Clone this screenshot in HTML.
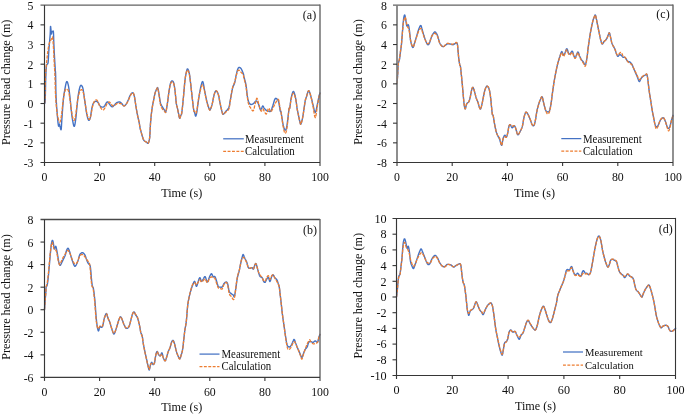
<!DOCTYPE html>
<html><head><meta charset="utf-8"><title>Pressure head change</title>
<style>html,body{margin:0;padding:0;background:#fff;}svg{display:block;will-change:transform;}text{font-family:"Liberation Serif",serif;fill:#111;}</style></head>
<body>
<svg width="685" height="415" viewBox="0 0 685 415">
<rect x="0" y="0" width="685" height="415" fill="#ffffff"/>
<g id="panel-a">
<path d="M44.50,103.50 L44.63,103.38 L44.81,103.31 L45.01,102.47 L45.20,100.00 L45.36,94.90 L45.52,87.88 L45.67,80.67 L45.84,75.00 L46.01,71.32 L46.18,68.71 L46.36,66.84 L46.57,65.36 L46.81,64.44 L47.09,64.17 L47.36,64.13 L47.59,63.91 L47.77,63.60 L47.91,63.36 L48.04,62.84 L48.18,61.72 L48.32,59.69 L48.46,57.02 L48.60,54.14 L48.76,51.50 L48.93,49.20 L49.11,47.03 L49.30,44.89 L49.49,42.74 L49.68,40.52 L49.88,38.28 L50.07,36.09 L50.22,33.98 L50.32,31.74 L50.38,29.43 L50.44,27.50 L50.51,26.39 L50.61,26.40 L50.72,27.24 L50.84,28.46 L50.95,29.60 L51.05,30.77 L51.16,32.13 L51.27,33.32 L51.39,33.98 L51.52,33.85 L51.65,33.18 L51.80,32.37 L51.97,31.79 L52.18,31.52 L52.41,31.38 L52.64,31.33 L52.85,31.35 L53.02,31.22 L53.17,31.01 L53.30,31.20 L53.43,32.23 L53.54,34.38 L53.64,37.35 L53.74,40.76 L53.87,44.20 L54.03,47.73 L54.22,51.51 L54.41,55.29 L54.60,58.80 L54.79,62.09 L54.99,65.26 L55.18,68.13 L55.33,70.47 L55.43,71.70 L55.49,72.10 L55.55,72.81 L55.62,75.00 L55.70,79.29 L55.77,84.95 L55.87,91.12 L56.06,96.90 L56.36,102.38 L56.75,107.94 L57.16,113.08 L57.52,117.34 L57.81,120.60 L58.07,123.13 L58.32,124.95 L58.54,126.09 L58.74,126.20 L58.91,125.36 L59.08,124.35 L59.27,123.91 L59.48,124.28 L59.69,125.06 L59.91,126.00 L60.15,126.82 L60.40,127.81 L60.67,128.99 L60.93,129.74 L61.17,129.45 L61.35,127.92 L61.51,125.47 L61.67,122.36 L61.90,118.80 L62.21,114.43 L62.58,109.28 L62.98,104.14 L63.36,99.82 L63.71,96.60 L64.06,94.02 L64.42,91.79 L64.82,89.60 L65.26,87.15 L65.75,84.67 L66.24,82.65 L66.72,81.57 L67.17,81.64 L67.62,82.57 L68.05,84.10 L68.47,85.95 L68.85,88.14 L69.22,90.78 L69.57,93.75 L69.93,96.90 L70.29,100.39 L70.66,104.24 L71.02,108.07 L71.39,111.50 L71.75,114.49 L72.12,117.23 L72.48,119.65 L72.85,121.72 L73.21,123.56 L73.58,125.16 L73.94,126.21 L74.31,126.39 L74.67,125.52 L75.04,123.80 L75.40,121.47 L75.77,118.80 L76.13,115.57 L76.50,111.75 L76.86,107.81 L77.23,104.20 L77.58,100.96 L77.93,97.88 L78.29,95.04 L78.69,92.52 L79.13,90.23 L79.60,88.17 L80.09,86.53 L80.58,85.51 L81.11,85.25 L81.65,85.61 L82.17,86.40 L82.63,87.41 L82.97,88.64 L83.25,90.17 L83.50,91.97 L83.80,93.98 L84.14,96.29 L84.51,98.91 L84.88,101.61 L85.26,104.20 L85.61,106.69 L85.96,109.17 L86.32,111.54 L86.72,113.69 L87.16,115.76 L87.65,117.75 L88.14,119.35 L88.61,120.26 L89.07,120.33 L89.52,119.75 L89.95,118.70 L90.36,117.34 L90.75,115.47 L91.11,113.09 L91.47,110.65 L91.82,108.58 L92.17,106.97 L92.51,105.61 L92.87,104.45 L93.28,103.47 L93.78,102.65 L94.33,102.01 L94.91,101.55 L95.47,101.28 L96.02,101.19 L96.57,101.28 L97.12,101.55 L97.66,102.01 L98.21,102.77 L98.76,103.79 L99.31,104.83 L99.85,105.66 L100.40,106.23 L100.95,106.66 L101.50,106.96 L102.04,107.12 L102.59,107.16 L103.14,107.07 L103.69,106.83 L104.23,106.39 L104.80,105.61 L105.37,104.56 L105.93,103.51 L106.42,102.74 L106.82,102.26 L107.15,101.96 L107.48,101.86 L107.88,102.01 L108.38,102.50 L108.93,103.30 L109.51,104.18 L110.07,104.93 L110.62,105.56 L111.17,106.18 L111.72,106.64 L112.26,106.82 L112.81,106.62 L113.36,106.13 L113.91,105.51 L114.45,104.93 L114.98,104.37 L115.50,103.76 L116.04,103.19 L116.64,102.74 L117.34,102.40 L118.10,102.14 L118.87,102.00 L119.56,102.01 L120.16,102.19 L120.70,102.54 L121.22,102.98 L121.75,103.47 L122.30,104.11 L122.85,104.91 L123.39,105.60 L123.94,105.95 L124.49,105.87 L125.04,105.50 L125.58,104.92 L126.13,104.20 L126.68,103.30 L127.23,102.22 L127.77,101.03 L128.32,99.82 L128.87,98.52 L129.42,97.11 L129.96,95.78 L130.51,94.71 L131.08,93.90 L131.65,93.28 L132.20,92.89 L132.70,92.81 L133.12,93.01 L133.48,93.46 L133.81,94.24 L134.16,95.44 L134.53,97.20 L134.89,99.43 L135.26,101.86 L135.62,104.20 L135.97,106.35 L136.30,108.49 L136.66,110.66 L137.08,112.96 L137.61,115.52 L138.21,118.28 L138.79,120.92 L139.27,123.18 L139.55,124.75 L139.70,125.88 L139.87,127.00 L140.22,128.58 L140.84,130.98 L141.65,133.89 L142.47,136.69 L143.14,138.80 L143.60,139.93 L143.94,140.47 L144.25,140.71 L144.60,140.99 L145.01,141.32 L145.45,141.56 L145.90,141.77 L146.35,142.01 L146.82,142.45 L147.32,143.02 L147.80,143.37 L148.25,143.18 L148.66,142.38 L149.05,141.15 L149.40,139.47 L149.71,137.34 L149.92,134.60 L150.07,131.31 L150.22,127.76 L150.44,124.20 L150.73,120.58 L151.08,116.81 L151.46,113.08 L151.90,109.60 L152.42,106.32 L153.02,103.16 L153.61,100.30 L154.09,97.92 L154.41,96.18 L154.64,94.94 L154.85,93.95 L155.11,92.96 L155.45,91.90 L155.83,90.91 L156.21,90.03 L156.57,89.31 L156.88,88.60 L157.16,87.94 L157.44,87.60 L157.74,87.85 L158.05,88.87 L158.38,90.49 L158.71,92.43 L159.05,94.42 L159.40,96.57 L159.74,98.98 L160.11,101.29 L160.51,103.18 L160.95,104.45 L161.41,105.32 L161.90,106.03 L162.41,106.82 L162.96,107.79 L163.55,108.79 L164.12,109.72 L164.60,110.47 L164.96,111.20 L165.23,111.89 L165.48,112.24 L165.77,111.93 L166.10,110.86 L166.46,109.20 L166.83,107.08 L167.23,104.64 L167.65,101.64 L168.10,98.11 L168.55,94.56 L168.98,91.50 L169.36,89.00 L169.73,86.82 L170.08,84.96 L170.44,83.47 L170.80,82.36 L171.15,81.61 L171.51,81.18 L171.90,80.99 L172.32,80.96 L172.77,81.16 L173.23,81.71 L173.65,82.74 L174.04,84.37 L174.42,86.50 L174.77,88.94 L175.11,91.50 L175.42,94.37 L175.71,97.57 L175.99,100.66 L176.28,103.18 L176.57,104.87 L176.86,106.02 L177.15,106.99 L177.45,108.14 L177.74,109.57 L178.04,111.09 L178.33,112.60 L178.61,113.98 L178.88,115.35 L179.12,116.72 L179.37,117.81 L179.64,118.36 L179.92,118.14 L180.22,117.35 L180.52,116.34 L180.80,115.44 L181.06,114.96 L181.30,114.65 L181.54,114.01 L181.82,112.52 L182.15,109.97 L182.51,106.66 L182.89,102.85 L183.28,98.80 L183.71,94.16 L184.16,88.95 L184.61,83.92 L185.04,79.82 L185.43,76.92 L185.80,74.80 L186.16,73.18 L186.50,71.79 L186.80,70.51 L187.06,69.51 L187.34,68.91 L187.66,68.87 L188.07,69.43 L188.52,70.51 L188.98,72.05 L189.42,73.98 L189.80,76.40 L190.16,79.32 L190.52,82.48 L190.88,85.66 L191.24,88.87 L191.61,92.23 L191.97,95.58 L192.34,98.80 L192.71,102.04 L193.10,105.33 L193.47,108.27 L193.80,110.47 L194.05,111.63 L194.26,112.00 L194.46,112.12 L194.67,112.52 L194.91,113.51 L195.16,114.74 L195.42,115.78 L195.69,116.17 L195.95,115.87 L196.21,115.11 L196.50,113.78 L196.86,111.79 L197.31,108.82 L197.82,105.02 L198.36,100.99 L198.91,97.34 L199.45,94.04 L200.02,90.84 L200.57,87.97 L201.09,85.66 L201.56,83.81 L201.99,82.34 L202.41,81.55 L202.85,81.72 L203.30,83.19 L203.77,85.72 L204.25,88.70 L204.74,91.50 L205.27,94.10 L205.82,96.78 L206.38,99.38 L206.93,101.72 L207.51,103.83 L208.10,105.79 L208.66,107.47 L209.12,108.72 L209.44,109.54 L209.65,109.99 L209.86,110.06 L210.15,109.74 L210.55,109.02 L211.02,107.89 L211.53,106.42 L212.04,104.64 L212.58,102.29 L213.14,99.43 L213.70,96.63 L214.23,94.42 L214.72,92.87 L215.18,91.72 L215.64,91.01 L216.13,90.77 L216.67,91.05 L217.24,91.82 L217.80,92.97 L218.32,94.42 L218.78,96.23 L219.20,98.43 L219.61,100.81 L220.07,103.18 L220.61,105.68 L221.20,108.38 L221.78,110.84 L222.26,112.66 L222.60,113.70 L222.83,114.17 L223.07,114.26 L223.43,114.12 L223.95,113.72 L224.56,112.98 L225.23,112.09 L225.91,111.20 L226.65,110.43 L227.44,109.65 L228.19,108.74 L228.83,107.55 L229.28,106.09 L229.61,104.41 L229.91,102.47 L230.29,100.26 L230.79,97.51 L231.34,94.32 L231.92,91.19 L232.48,88.58 L233.05,86.74 L233.62,85.38 L234.18,84.16 L234.67,82.74 L235.09,80.98 L235.45,79.09 L235.78,77.19 L236.13,75.44 L236.50,73.79 L236.86,72.20 L237.23,70.77 L237.59,69.60 L237.94,68.71 L238.28,68.05 L238.63,67.61 L239.05,67.41 L239.55,67.43 L240.10,67.68 L240.68,68.16 L241.24,68.87 L241.83,69.96 L242.45,71.38 L243.01,72.83 L243.43,73.98 L243.60,74.55 L243.59,74.79 L243.59,75.14 L243.76,76.06 L244.19,77.71 L244.78,79.84 L245.41,82.27 L245.95,84.82 L246.37,87.67 L246.72,90.84 L247.06,93.92 L247.41,96.50 L247.76,98.45 L248.09,100.01 L248.45,101.27 L248.87,102.34 L249.35,103.23 L249.87,103.89 L250.44,104.32 L251.06,104.53 L251.75,104.43 L252.52,104.07 L253.28,103.57 L253.98,103.07 L254.58,102.45 L255.12,101.70 L255.64,101.08 L256.17,100.88 L256.72,101.18 L257.26,101.83 L257.81,102.74 L258.36,103.80 L258.91,105.27 L259.45,107.13 L260.00,108.77 L260.55,109.64 L261.11,109.25 L261.69,108.04 L262.24,106.71 L262.74,105.99 L263.14,106.12 L263.47,106.72 L263.80,107.49 L264.20,108.18 L264.69,108.76 L265.25,109.36 L265.82,109.92 L266.39,110.36 L266.93,110.67 L267.48,110.87 L268.03,111.00 L268.58,111.09 L269.12,111.28 L269.67,111.51 L270.22,111.52 L270.77,111.09 L271.31,110.06 L271.86,108.59 L272.41,106.90 L272.96,105.26 L273.50,103.49 L274.05,101.56 L274.60,99.83 L275.15,98.69 L275.71,98.30 L276.29,98.46 L276.84,98.91 L277.34,99.42 L277.75,99.86 L278.11,100.37 L278.45,101.14 L278.80,102.34 L279.18,104.30 L279.57,106.85 L279.94,109.33 L280.26,111.09 L280.46,111.57 L280.57,111.22 L280.72,111.02 L280.99,111.90 L281.44,114.50 L282.01,118.20 L282.61,122.03 L283.18,125.04 L283.67,127.08 L284.15,128.64 L284.62,129.67 L285.07,130.15 L285.51,130.17 L285.93,129.74 L286.36,128.59 L286.82,126.50 L287.38,122.70 L287.98,117.56 L288.56,112.51 L289.01,108.98 L289.28,107.82 L289.43,108.12 L289.54,108.65 L289.74,108.18 L290.04,106.20 L290.38,103.43 L290.77,100.48 L291.20,97.96 L291.70,95.75 L292.25,93.62 L292.83,92.02 L293.39,91.39 L293.96,92.02 L294.53,93.62 L295.09,95.75 L295.58,97.96 L296.02,100.41 L296.41,103.24 L296.75,105.99 L297.04,108.18 L297.24,109.41 L297.36,110.04 L297.51,110.66 L297.77,111.90 L298.25,114.19 L298.85,117.13 L299.46,120.01 L299.96,122.12 L300.28,123.37 L300.49,124.11 L300.70,124.29 L300.99,123.87 L301.39,122.79 L301.86,121.09 L302.37,118.89 L302.88,116.28 L303.43,112.90 L304.01,108.83 L304.57,104.83 L305.07,101.68 L305.47,99.74 L305.80,98.54 L306.13,97.62 L306.53,96.50 L307.03,94.81 L307.58,92.89 L308.16,91.31 L308.72,90.66 L309.27,91.23 L309.82,92.66 L310.36,94.56 L310.91,96.50 L311.46,98.52 L312.01,100.78 L312.55,103.10 L313.10,105.26 L313.65,107.56 L314.20,110.00 L314.74,111.89 L315.29,112.55 L315.86,111.46 L316.43,109.09 L316.99,106.26 L317.48,103.80 L317.91,101.78 L318.28,99.83 L318.62,98.03 L318.94,96.50 L319.25,95.24 L319.54,94.22 L319.79,93.42 L319.96,92.85" fill="none" stroke="#4472C4" stroke-width="1.4" stroke-linejoin="round" stroke-linecap="round"/>
<path d="M44.50,103.50 L44.59,102.92 L44.72,102.19 L44.86,100.73 L45.00,98.00 L45.12,93.22 L45.24,86.90 L45.38,80.37 L45.55,75.00 L45.78,71.15 L46.05,68.11 L46.32,65.55 L46.57,63.18 L46.77,61.00 L46.95,59.15 L47.12,57.49 L47.30,55.88 L47.48,54.28 L47.66,52.77 L47.85,51.36 L48.03,50.04 L48.21,48.80 L48.39,47.66 L48.58,46.61 L48.76,45.66 L48.94,44.79 L49.12,44.01 L49.31,43.33 L49.49,42.74 L49.67,42.27 L49.85,41.92 L50.04,41.61 L50.22,41.28 L50.40,40.91 L50.58,40.55 L50.77,40.18 L50.95,39.82 L51.13,39.45 L51.31,39.09 L51.50,38.72 L51.68,38.36 L51.87,37.91 L52.06,37.40 L52.25,37.01 L52.41,36.90 L52.54,37.05 L52.64,37.40 L52.73,38.04 L52.85,39.09 L52.99,40.67 L53.14,42.69 L53.29,44.92 L53.43,47.12 L53.55,49.26 L53.66,51.45 L53.76,53.67 L53.87,55.88 L53.97,58.03 L54.08,60.16 L54.19,62.33 L54.31,64.64 L54.44,66.84 L54.58,69.00 L54.73,71.56 L54.89,75.00 L55.05,79.80 L55.20,85.59 L55.38,91.56 L55.62,96.90 L55.93,101.53 L56.30,105.84 L56.69,109.69 L57.08,112.96 L57.47,115.53 L57.88,117.52 L58.29,119.05 L58.69,120.26 L59.06,121.24 L59.43,121.90 L59.78,122.10 L60.15,121.72 L60.51,120.64 L60.88,118.98 L61.24,116.86 L61.61,114.42 L61.97,111.44 L62.34,107.94 L62.70,104.39 L63.07,101.28 L63.42,98.66 L63.78,96.30 L64.14,94.25 L64.53,92.52 L64.93,91.11 L65.36,90.01 L65.80,89.25 L66.28,88.87 L66.81,88.87 L67.39,89.23 L67.96,89.96 L68.47,91.06 L68.88,92.59 L69.24,94.53 L69.58,96.74 L69.93,99.09 L70.29,101.69 L70.66,104.56 L71.02,107.44 L71.39,110.04 L71.75,112.39 L72.12,114.60 L72.48,116.54 L72.85,118.07 L73.21,119.21 L73.58,120.03 L73.94,120.41 L74.31,120.26 L74.67,119.50 L75.04,118.20 L75.40,116.47 L75.77,114.42 L76.12,111.86 L76.47,108.80 L76.83,105.64 L77.23,102.74 L77.66,100.07 L78.13,97.49 L78.62,95.16 L79.12,93.25 L79.66,91.79 L80.23,90.69 L80.79,89.96 L81.31,89.60 L81.79,89.62 L82.24,90.01 L82.66,90.74 L83.07,91.79 L83.45,93.20 L83.81,94.98 L84.17,96.99 L84.53,99.09 L84.89,101.36 L85.26,103.83 L85.62,106.31 L85.99,108.58 L86.34,110.64 L86.69,112.59 L87.05,114.36 L87.45,115.88 L87.90,117.22 L88.39,118.39 L88.89,119.21 L89.34,119.53 L89.74,119.23 L90.10,118.43 L90.45,117.27 L90.80,115.88 L91.16,114.13 L91.51,112.00 L91.88,109.80 L92.26,107.85 L92.67,106.15 L93.09,104.56 L93.54,103.16 L94.01,102.01 L94.54,101.10 L95.10,100.41 L95.67,99.97 L96.20,99.82 L96.70,100.01 L97.18,100.50 L97.64,101.20 L98.10,102.01 L98.52,102.97 L98.91,104.11 L99.34,105.29 L99.85,106.39 L100.52,107.49 L101.29,108.62 L102.07,109.55 L102.77,110.04 L103.37,109.95 L103.91,109.44 L104.43,108.68 L104.96,107.85 L105.51,106.84 L106.06,105.61 L106.61,104.41 L107.15,103.47 L107.71,102.81 L108.27,102.33 L108.82,102.05 L109.34,102.01 L109.84,102.31 L110.32,102.90 L110.78,103.59 L111.24,104.20 L111.68,104.73 L112.10,105.27 L112.53,105.72 L112.99,105.95 L113.51,105.90 L114.06,105.64 L114.62,105.28 L115.18,104.93 L115.73,104.56 L116.28,104.13 L116.82,103.74 L117.37,103.47 L117.92,103.35 L118.47,103.33 L119.01,103.38 L119.56,103.47 L120.11,103.57 L120.66,103.72 L121.20,103.93 L121.75,104.20 L122.30,104.65 L122.85,105.23 L123.39,105.73 L123.94,105.95 L124.49,105.80 L125.04,105.41 L125.58,104.85 L126.13,104.20 L126.68,103.45 L127.23,102.58 L127.77,101.61 L128.32,100.55 L128.87,99.31 L129.42,97.93 L129.96,96.58 L130.51,95.44 L131.08,94.48 L131.65,93.64 L132.20,93.04 L132.70,92.81 L133.12,92.95 L133.48,93.41 L133.81,94.23 L134.16,95.44 L134.53,97.20 L134.89,99.43 L135.26,101.86 L135.62,104.20 L135.97,106.35 L136.30,108.49 L136.66,110.66 L137.08,112.96 L137.61,115.52 L138.21,118.28 L138.79,120.92 L139.27,123.18 L139.55,124.75 L139.70,125.88 L139.87,127.00 L140.22,128.58 L140.84,130.98 L141.65,133.89 L142.47,136.69 L143.14,138.80 L143.60,139.93 L143.94,140.47 L144.25,140.71 L144.60,140.99 L145.01,141.32 L145.45,141.56 L145.90,141.77 L146.35,142.01 L146.82,142.45 L147.32,143.02 L147.80,143.37 L148.25,143.18 L148.66,142.38 L149.05,141.15 L149.40,139.47 L149.71,137.34 L149.92,134.60 L150.07,131.31 L150.22,127.76 L150.44,124.20 L150.73,120.58 L151.08,116.81 L151.46,113.08 L151.90,109.60 L152.42,106.32 L153.02,103.16 L153.61,100.30 L154.09,97.92 L154.41,96.18 L154.64,94.94 L154.85,93.95 L155.11,92.96 L155.45,91.89 L155.83,90.89 L156.21,90.00 L156.57,89.31 L156.88,88.68 L157.16,88.14 L157.44,87.92 L157.74,88.28 L158.05,89.38 L158.38,91.06 L158.71,93.06 L159.05,95.15 L159.40,97.45 L159.74,100.05 L160.11,102.56 L160.51,104.64 L160.95,106.14 L161.41,107.28 L161.90,108.19 L162.41,109.01 L162.96,109.74 L163.55,110.32 L164.12,110.79 L164.60,111.20 L164.96,111.74 L165.23,112.33 L165.48,112.60 L165.77,112.23 L166.10,111.06 L166.46,109.32 L166.83,107.12 L167.23,104.64 L167.65,101.60 L168.10,98.05 L168.55,94.50 L168.98,91.50 L169.36,89.14 L169.73,87.16 L170.08,85.53 L170.44,84.20 L170.80,83.20 L171.15,82.55 L171.51,82.18 L171.90,82.01 L172.32,81.96 L172.77,82.10 L173.23,82.55 L173.65,83.47 L174.04,84.93 L174.42,86.84 L174.77,89.08 L175.11,91.50 L175.42,94.32 L175.71,97.53 L175.99,100.64 L176.28,103.18 L176.57,104.87 L176.86,106.02 L177.15,106.99 L177.45,108.14 L177.74,109.57 L178.04,111.09 L178.33,112.60 L178.61,113.98 L178.88,115.35 L179.12,116.72 L179.37,117.81 L179.64,118.36 L179.92,118.14 L180.22,117.35 L180.52,116.34 L180.80,115.44 L181.06,114.96 L181.30,114.65 L181.54,114.01 L181.82,112.52 L182.15,109.97 L182.51,106.66 L182.89,102.85 L183.28,98.80 L183.71,94.16 L184.16,88.95 L184.61,83.92 L185.04,79.82 L185.43,76.89 L185.80,74.71 L186.16,73.08 L186.50,71.79 L186.80,70.82 L187.06,70.28 L187.34,70.13 L187.66,70.33 L188.07,70.86 L188.52,71.74 L188.98,73.01 L189.42,74.71 L189.80,76.93 L190.16,79.64 L190.52,82.61 L190.88,85.66 L191.24,88.82 L191.61,92.18 L191.97,95.56 L192.34,98.80 L192.71,102.08 L193.10,105.42 L193.47,108.37 L193.80,110.47 L194.05,111.36 L194.26,111.36 L194.46,111.06 L194.67,111.06 L194.91,111.61 L195.16,112.37 L195.42,113.02 L195.69,113.25 L195.95,113.13 L196.21,112.78 L196.50,111.94 L196.86,110.33 L197.31,107.54 L197.82,103.83 L198.36,99.94 L198.91,96.61 L199.45,93.93 L200.02,91.55 L200.57,89.51 L201.09,87.85 L201.56,86.47 L201.99,85.38 L202.41,84.80 L202.85,84.93 L203.30,85.96 L203.77,87.76 L204.25,89.96 L204.74,92.23 L205.27,94.66 L205.82,97.38 L206.38,100.08 L206.93,102.45 L207.51,104.48 L208.10,106.32 L208.66,107.87 L209.12,109.01 L209.44,109.74 L209.65,110.11 L209.86,110.11 L210.15,109.74 L210.55,109.00 L211.02,107.87 L211.53,106.41 L212.04,104.64 L212.58,102.29 L213.14,99.43 L213.70,96.63 L214.23,94.42 L214.72,92.87 L215.18,91.72 L215.64,91.01 L216.13,90.77 L216.67,91.05 L217.24,91.82 L217.80,92.97 L218.32,94.42 L218.78,96.23 L219.20,98.43 L219.61,100.81 L220.07,103.18 L220.61,105.68 L221.20,108.38 L221.78,110.84 L222.26,112.66 L222.60,113.68 L222.83,114.12 L223.07,114.20 L223.43,114.12 L223.95,113.85 L224.56,113.30 L225.23,112.62 L225.91,111.93 L226.65,111.38 L227.44,110.84 L228.19,110.12 L228.83,109.01 L229.28,107.49 L229.61,105.64 L229.91,103.47 L230.29,100.99 L230.79,97.89 L231.34,94.28 L231.92,90.74 L232.48,87.85 L233.05,85.87 L233.62,84.47 L234.18,83.30 L234.67,82.01 L235.09,80.53 L235.45,79.04 L235.78,77.58 L236.13,76.17 L236.49,74.74 L236.84,73.29 L237.21,72.01 L237.59,71.06 L238.01,70.50 L238.44,70.24 L238.89,70.20 L239.34,70.33 L239.80,70.67 L240.26,71.24 L240.74,71.90 L241.24,72.52 L241.81,73.05 L242.43,73.57 L243.01,74.12 L243.43,74.71 L243.60,75.23 L243.59,75.70 L243.59,76.38 L243.76,77.52 L244.18,79.12 L244.74,81.07 L245.36,83.43 L245.95,86.28 L246.50,90.04 L247.04,94.53 L247.59,98.92 L248.14,102.34 L248.67,104.42 L249.19,105.68 L249.73,106.55 L250.33,107.45 L251.03,108.65 L251.81,109.88 L252.57,110.73 L253.25,110.80 L253.80,109.75 L254.27,107.86 L254.71,105.69 L255.15,103.80 L255.59,102.05 L256.03,100.24 L256.46,98.82 L256.90,98.25 L257.32,98.81 L257.74,100.22 L258.17,102.03 L258.65,103.80 L259.21,105.72 L259.82,107.93 L260.43,109.90 L260.99,111.09 L261.47,111.11 L261.92,110.32 L262.33,109.37 L262.74,108.91 L263.11,109.13 L263.44,109.68 L263.79,110.39 L264.20,111.09 L264.69,111.98 L265.25,113.06 L265.82,113.88 L266.39,114.01 L266.93,112.95 L267.48,111.05 L268.03,109.17 L268.58,108.18 L269.12,108.59 L269.67,109.86 L270.22,111.20 L270.77,111.82 L271.30,111.48 L271.82,110.59 L272.36,109.41 L272.96,108.18 L273.64,106.80 L274.39,105.21 L275.15,103.64 L275.88,102.34 L276.58,101.13 L277.28,99.96 L277.94,99.26 L278.50,99.42 L278.96,100.90 L279.33,103.38 L279.66,106.07 L279.96,108.18 L280.22,109.21 L280.43,109.67 L280.66,110.32 L280.99,111.90 L281.46,114.96 L282.03,119.00 L282.62,123.14 L283.18,126.50 L283.67,129.04 L284.14,131.18 L284.61,132.69 L285.07,133.36 L285.54,133.19 L286.01,132.27 L286.49,130.55 L286.97,127.96 L287.50,123.74 L288.07,118.18 L288.59,112.76 L289.01,108.98 L289.27,107.70 L289.42,107.98 L289.54,108.56 L289.74,108.18 L290.04,106.32 L290.38,103.72 L290.77,100.97 L291.20,98.69 L291.70,96.80 L292.25,95.05 L292.83,93.78 L293.39,93.28 L293.96,93.78 L294.53,95.05 L295.09,96.80 L295.58,98.69 L296.02,100.91 L296.41,103.54 L296.75,106.11 L297.04,108.18 L297.24,109.36 L297.36,109.99 L297.51,110.65 L297.77,111.90 L298.25,114.19 L298.85,117.13 L299.46,120.01 L299.96,122.12 L300.28,123.37 L300.49,124.11 L300.70,124.29 L300.99,123.87 L301.39,122.79 L301.86,121.09 L302.37,118.89 L302.88,116.28 L303.43,112.90 L304.01,108.83 L304.57,104.83 L305.07,101.68 L305.47,99.74 L305.80,98.54 L306.13,97.62 L306.53,96.50 L307.03,94.81 L307.58,92.89 L308.16,91.31 L308.72,90.66 L309.27,91.19 L309.82,92.57 L310.36,94.45 L310.91,96.50 L311.46,98.73 L312.01,101.29 L312.55,104.01 L313.10,106.72 L313.65,109.95 L314.20,113.60 L314.74,116.55 L315.29,117.66 L315.86,116.10 L316.43,112.65 L316.99,108.60 L317.48,105.26 L317.91,102.85 L318.28,100.74 L318.62,98.87 L318.94,97.23 L319.25,95.77 L319.54,94.53 L319.79,93.55 L319.96,92.85" fill="none" stroke="#ED7D31" stroke-width="1.3" stroke-dasharray="3.3 1.2" stroke-linejoin="round"/>
<path d="M40.50,5.20 H320.00" stroke="#626262" stroke-width="1.3" fill="none"/>
<path d="M320.00,4.60 V166.00" stroke="#666666" stroke-width="1.4" fill="none"/>
<path d="M44.50,5.20 V166.00" stroke="#363636" stroke-width="1.15" fill="none"/>
<path d="M40.50,162.50 H320.00" stroke="#363636" stroke-width="1.15" fill="none"/>
<text transform="translate(33.50,9.66) scale(0.895,1)" font-size="13.2" text-anchor="end">5</text>
<path d="M40.50,24.86 H44.50" stroke="#363636" stroke-width="1.1" fill="none"/>
<text transform="translate(33.50,29.32) scale(0.895,1)" font-size="13.2" text-anchor="end">4</text>
<path d="M40.50,44.53 H44.50" stroke="#363636" stroke-width="1.1" fill="none"/>
<text transform="translate(33.50,48.99) scale(0.895,1)" font-size="13.2" text-anchor="end">3</text>
<path d="M40.50,64.19 H44.50" stroke="#363636" stroke-width="1.1" fill="none"/>
<text transform="translate(33.50,68.65) scale(0.895,1)" font-size="13.2" text-anchor="end">2</text>
<path d="M40.50,83.85 H44.50" stroke="#363636" stroke-width="1.1" fill="none"/>
<text transform="translate(33.50,88.31) scale(0.895,1)" font-size="13.2" text-anchor="end">1</text>
<path d="M40.50,103.51 H44.50" stroke="#363636" stroke-width="1.1" fill="none"/>
<text transform="translate(33.50,107.97) scale(0.895,1)" font-size="13.2" text-anchor="end">0</text>
<path d="M40.50,123.18 H44.50" stroke="#363636" stroke-width="1.1" fill="none"/>
<text transform="translate(33.50,127.64) scale(0.895,1)" font-size="13.2" text-anchor="end">-1</text>
<path d="M40.50,142.84 H44.50" stroke="#363636" stroke-width="1.1" fill="none"/>
<text transform="translate(33.50,147.30) scale(0.895,1)" font-size="13.2" text-anchor="end">-2</text>
<text transform="translate(33.50,166.96) scale(0.895,1)" font-size="13.2" text-anchor="end">-3</text>
<text transform="translate(44.50,180.80) scale(0.895,1)" font-size="13.2" text-anchor="middle">0</text>
<path d="M99.60,162.50 V166.10" stroke="#363636" stroke-width="1.1" fill="none"/>
<text transform="translate(99.60,180.80) scale(0.895,1)" font-size="13.2" text-anchor="middle">20</text>
<path d="M154.70,162.50 V166.10" stroke="#363636" stroke-width="1.1" fill="none"/>
<text transform="translate(154.70,180.80) scale(0.895,1)" font-size="13.2" text-anchor="middle">40</text>
<path d="M209.80,162.50 V166.10" stroke="#363636" stroke-width="1.1" fill="none"/>
<text transform="translate(209.80,180.80) scale(0.895,1)" font-size="13.2" text-anchor="middle">60</text>
<path d="M264.90,162.50 V166.10" stroke="#363636" stroke-width="1.1" fill="none"/>
<text transform="translate(264.90,180.80) scale(0.895,1)" font-size="13.2" text-anchor="middle">80</text>
<text transform="translate(320.00,180.80) scale(0.895,1)" font-size="13.2" text-anchor="middle">100</text>
<text transform="translate(181.80,196.60) scale(0.945,1)" font-size="12.9" text-anchor="middle">Time (s)</text>
<text transform="translate(9.60,82.35) rotate(-90) scale(0.945,1)" font-size="12.9" text-anchor="middle">Pressure head change (m)</text>
<text x="309.50" y="19.00" font-size="12.0" text-anchor="middle">(a)</text>
<path d="M223.20,138.80 H243.80" stroke="#4472C4" stroke-width="1.25" fill="none"/>
<path d="M223.20,151.30 H243.80" stroke="#ED7D31" stroke-width="1.25" stroke-dasharray="2.9 1.5" fill="none"/>
<text transform="translate(245.00,142.70) scale(0.900,1)" font-size="12.0">Measurement</text>
<text transform="translate(245.00,155.10) scale(0.900,1)" font-size="12.0">Calculation</text>
</g>
<g id="panel-b">
<path d="M44.50,309.70 L44.61,308.15 L44.76,305.93 L44.93,303.43 L45.11,301.06 L45.29,298.79 L45.49,296.46 L45.68,294.23 L45.84,292.30 L45.92,290.71 L45.96,289.37 L46.01,288.23 L46.13,287.23 L46.36,286.59 L46.66,286.26 L46.99,285.80 L47.30,284.74 L47.59,282.92 L47.89,280.57 L48.19,277.95 L48.47,275.26 L48.73,272.49 L48.99,269.55 L49.24,266.55 L49.49,263.58 L49.74,260.61 L49.99,257.60 L50.25,254.66 L50.51,251.90 L50.80,249.19 L51.09,246.54 L51.39,244.20 L51.68,242.41 L51.95,241.26 L52.21,240.61 L52.46,240.39 L52.70,240.51 L52.93,241.11 L53.16,242.16 L53.37,243.42 L53.58,244.60 L53.75,245.84 L53.91,247.21 L54.08,248.37 L54.31,248.98 L54.63,248.66 L55.02,247.68 L55.42,246.70 L55.77,246.35 L56.05,246.86 L56.30,247.86 L56.54,249.14 L56.79,250.44 L57.04,251.76 L57.29,253.20 L57.54,254.73 L57.81,256.28 L58.09,257.96 L58.39,259.77 L58.68,261.47 L58.98,262.85 L59.26,263.87 L59.54,264.65 L59.83,265.15 L60.15,265.33 L60.48,265.08 L60.84,264.47 L61.21,263.67 L61.61,262.85 L62.02,262.02 L62.46,261.09 L62.91,260.14 L63.36,259.20 L63.80,258.32 L64.25,257.46 L64.69,256.56 L65.11,255.55 L65.49,254.30 L65.86,252.90 L66.21,251.54 L66.57,250.44 L66.93,249.57 L67.30,248.84 L67.66,248.37 L68.03,248.25 L68.39,248.57 L68.76,249.25 L69.12,250.16 L69.49,251.17 L69.84,252.27 L70.19,253.54 L70.55,254.90 L70.95,256.28 L71.39,257.73 L71.87,259.26 L72.36,260.76 L72.85,262.12 L73.32,263.40 L73.80,264.64 L74.28,265.64 L74.74,266.20 L75.19,266.21 L75.63,265.78 L76.06,265.10 L76.50,264.31 L76.94,263.40 L77.39,262.32 L77.83,261.13 L78.25,259.93 L78.62,258.63 L78.97,257.22 L79.32,255.89 L79.71,254.82 L80.16,254.07 L80.66,253.55 L81.15,253.19 L81.61,252.92 L81.99,252.73 L82.34,252.66 L82.68,252.72 L83.07,252.92 L83.52,253.27 L84.01,253.76 L84.51,254.38 L84.96,255.11 L85.35,256.00 L85.70,257.03 L86.05,258.13 L86.42,259.20 L86.84,260.27 L87.28,261.37 L87.73,262.41 L88.18,263.28 L88.64,263.89 L89.11,264.31 L89.56,264.72 L89.93,265.33 L90.18,266.10 L90.36,266.95 L90.50,268.02 L90.66,269.42 L90.84,271.31 L91.01,273.59 L91.19,275.98 L91.39,278.18 L91.59,280.22 L91.81,282.22 L92.03,284.03 L92.26,285.47 L92.51,286.31 L92.76,286.70 L93.03,287.08 L93.28,287.92 L93.54,289.37 L93.80,291.17 L94.06,293.18 L94.31,295.22 L94.54,297.27 L94.76,299.42 L94.98,301.65 L95.18,303.98 L95.37,306.43 L95.54,309.00 L95.71,311.61 L95.91,314.20 L96.14,316.84 L96.38,319.53 L96.64,322.12 L96.93,324.42 L97.27,326.57 L97.64,328.61 L98.02,330.20 L98.39,330.99 L98.76,330.54 L99.12,329.16 L99.49,327.60 L99.85,326.61 L100.22,326.48 L100.58,326.79 L100.95,327.19 L101.31,327.34 L101.68,327.26 L102.04,327.11 L102.41,326.70 L102.77,325.88 L103.12,324.41 L103.46,322.45 L103.82,320.38 L104.23,318.58 L104.75,316.92 L105.33,315.29 L105.91,314.03 L106.42,313.47 L106.83,313.89 L107.17,315.06 L107.50,316.53 L107.88,317.85 L108.33,318.91 L108.81,319.95 L109.31,321.03 L109.78,322.23 L110.24,323.62 L110.68,325.15 L111.12,326.67 L111.53,328.07 L111.93,329.33 L112.30,330.53 L112.66,331.59 L112.99,332.45 L113.29,333.15 L113.56,333.72 L113.83,334.02 L114.16,333.91 L114.55,333.29 L114.97,332.26 L115.43,330.96 L115.91,329.53 L116.43,327.86 L116.98,325.94 L117.54,323.99 L118.10,322.23 L118.66,320.56 L119.22,318.91 L119.78,317.58 L120.29,316.82 L120.76,316.83 L121.19,317.41 L121.61,318.32 L122.04,319.31 L122.51,320.43 L122.98,321.79 L123.46,323.18 L123.94,324.42 L124.42,325.52 L124.90,326.56 L125.38,327.44 L125.84,328.07 L126.29,328.37 L126.72,328.43 L127.16,328.31 L127.59,328.07 L128.03,327.79 L128.46,327.43 L128.89,326.83 L129.34,325.88 L129.82,324.36 L130.31,322.41 L130.79,320.37 L131.24,318.58 L131.64,317.06 L132.00,315.66 L132.35,314.44 L132.70,313.47 L133.07,312.74 L133.43,312.24 L133.80,311.98 L134.16,312.01 L134.52,312.43 L134.86,313.19 L135.22,314.09 L135.62,314.93 L136.06,315.54 L136.53,316.07 L137.02,316.76 L137.52,317.85 L138.05,319.52 L138.60,321.61 L139.14,323.82 L139.60,325.84 L139.95,327.65 L140.22,329.40 L140.48,331.01 L140.77,332.41 L141.12,333.44 L141.51,334.19 L141.89,334.96 L142.23,336.06 L142.50,337.63 L142.74,339.48 L142.97,341.45 L143.25,343.36 L143.57,345.15 L143.92,346.92 L144.30,348.73 L144.71,350.66 L145.16,352.80 L145.66,355.08 L146.15,357.35 L146.61,359.42 L147.01,361.27 L147.38,363.00 L147.73,364.58 L148.07,365.99 L148.37,367.37 L148.66,368.70 L148.94,369.66 L149.23,369.93 L149.56,369.16 L149.89,367.61 L150.23,365.87 L150.55,364.53 L150.85,363.65 L151.13,362.96 L151.42,362.50 L151.72,362.34 L152.03,362.66 L152.35,363.39 L152.69,364.13 L153.03,364.53 L153.39,364.55 L153.77,364.39 L154.14,363.93 L154.49,363.07 L154.79,361.58 L155.07,359.60 L155.35,357.52 L155.66,355.77 L155.99,354.28 L156.35,352.89 L156.72,351.85 L157.12,351.39 L157.54,351.80 L157.98,352.89 L158.43,354.14 L158.87,355.04 L159.28,355.51 L159.69,355.81 L160.09,355.91 L160.47,355.77 L160.85,355.10 L161.21,354.03 L161.57,353.10 L161.93,352.85 L162.29,353.61 L162.65,355.04 L163.01,356.64 L163.39,357.96 L163.82,358.99 L164.27,359.96 L164.72,360.66 L165.15,360.88 L165.53,360.46 L165.89,359.55 L166.25,358.40 L166.61,357.23 L166.96,356.03 L167.31,354.72 L167.67,353.38 L168.07,352.12 L168.51,351.00 L169.00,349.97 L169.49,348.92 L169.96,347.74 L170.42,346.28 L170.87,344.64 L171.30,343.08 L171.72,341.90 L172.10,341.11 L172.46,340.57 L172.82,340.34 L173.18,340.44 L173.53,340.91 L173.89,341.72 L174.25,342.80 L174.64,344.09 L175.05,345.71 L175.48,347.65 L175.93,349.63 L176.39,351.39 L176.86,352.89 L177.35,354.26 L177.84,355.48 L178.28,356.50 L178.68,357.39 L179.04,358.14 L179.39,358.62 L179.74,358.69 L180.11,358.24 L180.47,357.36 L180.84,356.24 L181.20,355.04 L181.58,353.80 L181.96,352.44 L182.33,350.91 L182.66,349.20 L182.95,347.25 L183.19,345.09 L183.43,342.80 L183.69,340.44 L183.96,337.95 L184.24,335.33 L184.54,332.71 L184.85,330.22 L185.20,328.08 L185.57,326.16 L185.95,324.08 L186.31,321.46 L186.65,317.93 L186.97,313.78 L187.29,309.63 L187.63,306.09 L187.97,303.41 L188.32,301.21 L188.69,299.27 L189.09,297.34 L189.53,295.36 L190.02,293.46 L190.51,291.67 L190.99,290.04 L191.43,288.57 L191.86,287.25 L192.29,286.05 L192.74,284.93 L193.20,283.71 L193.69,282.46 L194.17,281.54 L194.64,281.28 L195.09,282.14 L195.54,283.83 L195.97,285.52 L196.39,286.39 L196.76,286.12 L197.11,285.20 L197.46,283.96 L197.85,282.74 L198.29,281.36 L198.78,279.73 L199.27,278.32 L199.74,277.63 L200.19,278.06 L200.63,279.27 L201.06,280.57 L201.50,281.28 L201.93,281.15 L202.36,280.57 L202.80,279.79 L203.25,279.09 L203.71,278.30 L204.17,277.37 L204.65,276.68 L205.15,276.61 L205.67,277.65 L206.22,279.47 L206.78,281.21 L207.34,282.01 L207.89,281.42 L208.45,279.99 L209.00,278.29 L209.53,276.90 L210.02,275.81 L210.50,274.77 L210.97,273.99 L211.42,273.69 L211.87,274.12 L212.31,275.11 L212.74,276.19 L213.18,276.90 L213.62,276.97 L214.07,276.71 L214.51,276.46 L214.93,276.61 L215.30,277.25 L215.65,278.19 L216.00,279.33 L216.39,280.55 L216.82,281.99 L217.29,283.67 L217.78,285.24 L218.28,286.39 L218.82,286.95 L219.39,287.14 L219.95,287.13 L220.47,287.12 L220.94,287.19 L221.37,287.23 L221.79,287.14 L222.23,286.82 L222.68,286.16 L223.15,285.22 L223.63,284.24 L224.12,283.47 L224.67,282.88 L225.25,282.39 L225.81,282.07 L226.31,282.01 L226.73,282.18 L227.09,282.55 L227.43,283.20 L227.77,284.20 L228.12,285.78 L228.46,287.85 L228.82,289.91 L229.23,291.50 L229.74,292.42 L230.30,292.96 L230.88,293.31 L231.42,293.69 L231.94,294.10 L232.45,294.46 L232.92,294.80 L233.32,295.15 L233.63,295.73 L233.86,296.47 L234.08,296.91 L234.34,296.61 L234.68,295.32 L235.05,293.32 L235.43,290.96 L235.80,288.58 L236.16,286.11 L236.51,283.42 L236.87,280.76 L237.26,278.36 L237.71,276.36 L238.19,274.62 L238.69,272.92 L239.16,271.06 L239.62,268.90 L240.06,266.59 L240.50,264.32 L240.91,262.30 L241.31,260.54 L241.70,258.96 L242.06,257.58 L242.37,256.46 L242.62,255.56 L242.81,254.88 L243.00,254.50 L243.25,254.49 L243.56,255.01 L243.91,255.96 L244.30,257.09 L244.71,258.14 L245.16,259.00 L245.64,259.83 L246.13,260.72 L246.61,261.79 L247.05,263.21 L247.49,264.89 L247.92,266.48 L248.36,267.63 L248.79,268.20 L249.22,268.40 L249.66,268.40 L250.11,268.36 L250.58,268.23 L251.08,267.95 L251.56,267.69 L252.01,267.63 L252.40,267.98 L252.76,268.59 L253.11,269.08 L253.47,269.09 L253.84,268.32 L254.22,267.05 L254.58,265.70 L254.93,264.71 L255.24,264.08 L255.52,263.63 L255.80,263.46 L256.09,263.69 L256.41,264.44 L256.73,265.64 L257.07,267.03 L257.41,268.36 L257.77,269.66 L258.15,271.02 L258.52,272.33 L258.87,273.47 L259.16,274.39 L259.41,275.16 L259.68,275.81 L260.04,276.39 L260.53,276.80 L261.11,277.07 L261.71,277.36 L262.23,277.85 L262.64,278.67 L263.00,279.72 L263.34,280.74 L263.69,281.50 L264.05,281.97 L264.42,282.27 L264.78,282.37 L265.15,282.23 L265.50,281.73 L265.86,280.93 L266.22,280.05 L266.61,279.31 L267.03,278.62 L267.47,277.92 L267.92,277.44 L268.36,277.41 L268.77,278.23 L269.16,279.65 L269.56,280.98 L269.96,281.50 L270.40,280.78 L270.85,279.29 L271.29,277.62 L271.72,276.39 L272.09,275.66 L272.45,275.16 L272.80,274.90 L273.18,274.93 L273.59,275.37 L274.02,276.18 L274.47,277.09 L274.93,277.85 L275.40,278.35 L275.89,278.73 L276.38,279.15 L276.82,279.74 L277.23,280.59 L277.61,281.61 L277.96,282.67 L278.28,283.69 L278.57,284.53 L278.83,285.30 L279.07,286.17 L279.31,287.34 L279.53,288.87 L279.74,290.67 L279.96,292.62 L280.18,294.64 L280.42,296.66 L280.67,298.77 L280.93,301.00 L281.20,303.39 L281.49,306.05 L281.80,308.91 L282.11,311.81 L282.45,314.60 L282.79,317.22 L283.16,319.77 L283.54,322.29 L283.91,324.82 L284.27,327.41 L284.64,330.02 L285.00,332.58 L285.36,335.04 L285.73,337.47 L286.09,339.87 L286.46,342.05 L286.82,343.80 L287.17,345.01 L287.51,345.82 L287.87,346.35 L288.28,346.72 L288.78,346.96 L289.33,347.01 L289.91,346.84 L290.47,346.42 L291.04,345.64 L291.61,344.54 L292.17,343.36 L292.66,342.34 L293.08,341.37 L293.44,340.39 L293.78,339.66 L294.12,339.42 L294.49,339.87 L294.85,340.83 L295.22,342.00 L295.58,343.07 L295.93,343.94 L296.27,344.80 L296.63,345.70 L297.04,346.72 L297.56,347.92 L298.14,349.27 L298.72,350.62 L299.23,351.82 L299.66,352.87 L300.03,353.83 L300.37,354.70 L300.69,355.47 L301.00,356.26 L301.28,357.03 L301.56,357.56 L301.86,357.66 L302.20,357.18 L302.55,356.25 L302.93,355.12 L303.32,354.01 L303.73,352.94 L304.15,351.78 L304.60,350.64 L305.07,349.64 L305.61,348.84 L306.19,348.18 L306.76,347.51 L307.26,346.72 L307.66,345.64 L307.99,344.39 L308.32,343.21 L308.72,342.34 L309.22,341.86 L309.77,341.65 L310.35,341.60 L310.91,341.61 L311.46,341.74 L312.01,342.02 L312.55,342.27 L313.10,342.34 L313.65,342.06 L314.20,341.56 L314.74,341.09 L315.29,340.88 L315.86,341.19 L316.43,341.83 L316.99,342.36 L317.48,342.34 L317.91,341.47 L318.28,340.05 L318.62,338.50 L318.94,337.23 L319.25,336.27 L319.54,335.45 L319.79,334.78 L319.96,334.31" fill="none" stroke="#4472C4" stroke-width="1.4" stroke-linejoin="round" stroke-linecap="round"/>
<path d="M44.50,309.70 L44.61,308.15 L44.76,305.93 L44.93,303.43 L45.11,301.06 L45.29,298.80 L45.49,296.49 L45.68,294.27 L45.84,292.30 L45.93,290.60 L45.98,289.09 L46.03,287.77 L46.13,286.64 L46.31,285.88 L46.52,285.43 L46.76,284.93 L47.01,284.01 L47.25,282.59 L47.51,280.84 L47.77,278.85 L48.03,276.72 L48.28,274.43 L48.53,271.97 L48.79,269.32 L49.05,266.50 L49.33,263.31 L49.63,259.84 L49.92,256.40 L50.22,253.36 L50.51,250.71 L50.81,248.29 L51.11,246.22 L51.39,244.60 L51.65,243.44 L51.91,242.68 L52.16,242.34 L52.41,242.41 L52.66,243.08 L52.91,244.28 L53.16,245.64 L53.43,246.79 L53.71,247.67 L53.99,248.48 L54.28,249.17 L54.60,249.71 L54.95,249.96 L55.33,249.98 L55.71,250.05 L56.06,250.44 L56.37,251.24 L56.67,252.31 L56.95,253.53 L57.23,254.82 L57.48,256.22 L57.72,257.76 L57.97,259.29 L58.25,260.66 L58.57,261.99 L58.92,263.32 L59.30,264.34 L59.71,264.74 L60.16,264.29 L60.64,263.18 L61.13,261.84 L61.61,260.66 L62.05,259.70 L62.49,258.76 L62.92,257.86 L63.36,257.01 L63.80,256.22 L64.25,255.47 L64.69,254.77 L65.11,254.09 L65.49,253.41 L65.86,252.74 L66.21,252.12 L66.57,251.61 L66.92,251.13 L67.27,250.68 L67.63,250.41 L68.03,250.44 L68.47,250.83 L68.95,251.51 L69.44,252.38 L69.93,253.36 L70.40,254.51 L70.89,255.85 L71.36,257.22 L71.82,258.47 L72.27,259.59 L72.71,260.67 L73.14,261.63 L73.58,262.41 L74.01,263.02 L74.44,263.48 L74.88,263.77 L75.33,263.87 L75.80,263.77 L76.30,263.48 L76.78,263.02 L77.23,262.41 L77.61,261.58 L77.96,260.56 L78.30,259.47 L78.69,258.47 L79.13,257.52 L79.60,256.58 L80.09,255.74 L80.58,255.11 L81.09,254.71 L81.61,254.50 L82.12,254.44 L82.63,254.53 L83.11,254.77 L83.59,255.18 L84.05,255.70 L84.53,256.28 L85.00,256.94 L85.48,257.71 L85.96,258.49 L86.42,259.20 L86.88,259.78 L87.33,260.29 L87.76,260.81 L88.18,261.39 L88.58,261.98 L88.97,262.57 L89.33,263.30 L89.64,264.31 L89.87,265.64 L90.05,267.23 L90.20,268.99 L90.36,270.88 L90.54,272.96 L90.72,275.26 L90.90,277.55 L91.09,279.64 L91.30,281.55 L91.51,283.36 L91.74,284.95 L91.97,286.20 L92.22,286.84 L92.47,287.02 L92.73,287.21 L92.99,287.92 L93.25,289.32 L93.51,291.13 L93.77,293.16 L94.01,295.22 L94.25,297.27 L94.47,299.42 L94.69,301.65 L94.89,303.98 L95.08,306.45 L95.25,309.04 L95.42,311.66 L95.62,314.20 L95.85,316.72 L96.09,319.26 L96.35,321.64 L96.64,323.69 L96.97,325.45 L97.33,327.00 L97.71,328.16 L98.10,328.80 L98.53,328.61 L98.98,327.77 L99.43,326.79 L99.85,326.17 L100.24,326.11 L100.60,326.31 L100.96,326.56 L101.31,326.61 L101.68,326.49 L102.04,326.31 L102.41,325.91 L102.77,325.15 L103.12,323.82 L103.46,322.06 L103.82,320.21 L104.23,318.58 L104.75,317.07 L105.33,315.58 L105.91,314.42 L106.42,313.91 L106.83,314.27 L107.17,315.31 L107.50,316.63 L107.88,317.85 L108.33,318.88 L108.81,319.92 L109.31,321.02 L109.78,322.23 L110.24,323.63 L110.68,325.17 L111.12,326.71 L111.53,328.07 L111.93,329.25 L112.30,330.33 L112.66,331.26 L112.99,332.01 L113.29,332.61 L113.56,333.07 L113.83,333.29 L114.16,333.18 L114.55,332.69 L114.97,331.88 L115.43,330.81 L115.91,329.53 L116.43,327.91 L116.98,325.99 L117.54,324.00 L118.10,322.23 L118.66,320.56 L119.22,318.91 L119.78,317.58 L120.29,316.82 L120.76,316.83 L121.19,317.41 L121.61,318.32 L122.04,319.31 L122.51,320.44 L122.98,321.82 L123.46,323.21 L123.94,324.42 L124.42,325.43 L124.90,326.34 L125.38,327.10 L125.84,327.63 L126.29,327.90 L126.72,327.96 L127.16,327.85 L127.59,327.63 L128.03,327.38 L128.46,327.04 L128.89,326.49 L129.34,325.58 L129.82,324.14 L130.31,322.27 L130.79,320.31 L131.24,318.58 L131.64,317.08 L132.00,315.68 L132.35,314.44 L132.70,313.47 L133.07,312.75 L133.43,312.26 L133.80,312.01 L134.16,312.01 L134.52,312.34 L134.86,312.97 L135.22,313.75 L135.62,314.49 L136.06,315.06 L136.53,315.58 L137.02,316.28 L137.52,317.41 L138.05,319.17 L138.60,321.40 L139.14,323.73 L139.60,325.84 L139.95,327.66 L140.22,329.38 L140.48,330.96 L140.77,332.41 L141.12,333.61 L141.51,334.60 L141.89,335.59 L142.23,336.79 L142.50,338.24 L142.74,339.84 L142.97,341.56 L143.25,343.36 L143.57,345.26 L143.92,347.26 L144.30,349.32 L144.71,351.39 L145.16,353.49 L145.66,355.66 L146.15,357.76 L146.61,359.71 L147.01,361.49 L147.38,363.16 L147.73,364.67 L148.07,365.99 L148.37,367.22 L148.66,368.36 L148.94,369.15 L149.23,369.34 L149.56,368.62 L149.89,367.21 L150.23,365.65 L150.55,364.53 L150.85,363.96 L151.13,363.65 L151.42,363.53 L151.72,363.50 L152.03,363.68 L152.35,364.07 L152.69,364.43 L153.03,364.53 L153.39,364.37 L153.77,364.07 L154.14,363.52 L154.49,362.63 L154.79,361.19 L155.07,359.32 L155.35,357.39 L155.66,355.77 L155.99,354.41 L156.35,353.17 L156.72,352.24 L157.12,351.82 L157.54,352.18 L157.98,353.14 L158.43,354.24 L158.87,355.04 L159.28,355.44 L159.69,355.69 L160.09,355.80 L160.47,355.77 L160.85,355.44 L161.21,354.85 L161.57,354.36 L161.93,354.31 L162.29,354.88 L162.65,355.86 L163.01,356.98 L163.39,357.96 L163.82,358.89 L164.27,359.87 L164.72,360.62 L165.15,360.88 L165.53,360.46 L165.89,359.55 L166.25,358.40 L166.61,357.23 L166.96,356.03 L167.31,354.72 L167.67,353.38 L168.07,352.12 L168.51,351.00 L169.00,349.95 L169.49,348.90 L169.96,347.74 L170.42,346.33 L170.87,344.75 L171.30,343.29 L171.72,342.19 L172.10,341.51 L172.46,341.12 L172.82,341.01 L173.18,341.17 L173.53,341.62 L173.89,342.35 L174.25,343.34 L174.64,344.53 L175.05,346.04 L175.48,347.85 L175.93,349.71 L176.39,351.39 L176.86,352.85 L177.35,354.21 L177.84,355.43 L178.28,356.50 L178.68,357.49 L179.04,358.39 L179.39,359.00 L179.74,359.12 L180.11,358.62 L180.47,357.61 L180.84,356.34 L181.20,355.04 L181.58,353.77 L181.96,352.41 L182.33,350.90 L182.66,349.20 L182.95,347.25 L183.19,345.09 L183.43,342.80 L183.69,340.44 L183.96,337.95 L184.24,335.33 L184.54,332.71 L184.85,330.22 L185.20,328.08 L185.57,326.16 L185.95,324.08 L186.31,321.46 L186.65,317.93 L186.97,313.78 L187.29,309.63 L187.63,306.09 L187.97,303.42 L188.32,301.26 L188.69,299.32 L189.09,297.34 L189.53,295.21 L190.02,293.09 L190.51,291.09 L190.99,289.31 L191.43,287.74 L191.86,286.34 L192.29,285.15 L192.74,284.20 L193.20,283.49 L193.69,283.01 L194.17,282.76 L194.64,282.74 L195.09,283.13 L195.54,283.88 L195.97,284.60 L196.39,284.93 L196.76,284.70 L197.11,284.15 L197.46,283.44 L197.85,282.74 L198.29,281.94 L198.78,281.00 L199.27,280.21 L199.74,279.82 L200.19,280.09 L200.63,280.82 L201.06,281.60 L201.50,282.01 L201.93,281.90 L202.36,281.51 L202.80,281.00 L203.25,280.55 L203.71,280.06 L204.17,279.50 L204.65,279.09 L205.15,279.09 L205.67,279.83 L206.22,281.09 L206.78,282.27 L207.34,282.74 L207.89,282.14 L208.45,280.87 L209.00,279.44 L209.53,278.36 L210.02,277.74 L210.50,277.31 L210.97,277.04 L211.42,276.90 L211.87,276.93 L212.31,277.13 L212.74,277.39 L213.18,277.63 L213.62,277.72 L214.07,277.76 L214.51,277.92 L214.93,278.36 L215.30,279.18 L215.65,280.27 L216.00,281.51 L216.39,282.74 L216.82,284.07 L217.29,285.52 L217.78,286.86 L218.28,287.85 L218.82,288.35 L219.39,288.51 L219.95,288.53 L220.47,288.58 L220.94,288.80 L221.37,289.06 L221.79,289.15 L222.23,288.87 L222.68,287.98 L223.15,286.66 L223.63,285.28 L224.12,284.20 L224.67,283.44 L225.25,282.83 L225.81,282.47 L226.31,282.45 L226.73,282.79 L227.09,283.44 L227.43,284.40 L227.77,285.66 L228.12,287.45 L228.46,289.69 L228.82,291.93 L229.23,293.69 L229.73,294.78 L230.28,295.47 L230.86,296.00 L231.42,296.61 L231.99,297.52 L232.56,298.57 L233.12,299.36 L233.61,299.53 L234.04,298.93 L234.41,297.79 L234.75,296.24 L235.07,294.42 L235.38,292.19 L235.66,289.53 L235.94,286.77 L236.24,284.20 L236.58,281.84 L236.93,279.54 L237.31,277.39 L237.70,275.44 L238.12,273.84 L238.56,272.52 L239.01,271.20 L239.45,269.60 L239.88,267.49 L240.31,265.07 L240.75,262.72 L241.20,260.84 L241.71,259.49 L242.24,258.49 L242.77,257.80 L243.25,257.41 L243.64,257.38 L243.99,257.70 L244.33,258.24 L244.71,258.87 L245.16,259.59 L245.64,260.47 L246.13,261.45 L246.61,262.52 L247.05,263.80 L247.49,265.27 L247.92,266.64 L248.36,267.63 L248.79,268.09 L249.22,268.19 L249.66,268.13 L250.11,268.07 L250.58,267.98 L251.08,267.81 L251.56,267.66 L252.01,267.63 L252.40,267.90 L252.76,268.36 L253.11,268.71 L253.47,268.65 L253.84,267.94 L254.22,266.79 L254.58,265.58 L254.93,264.71 L255.24,264.18 L255.52,263.82 L255.80,263.73 L256.09,263.98 L256.41,264.71 L256.73,265.83 L257.07,267.12 L257.41,268.36 L257.77,269.57 L258.15,270.85 L258.52,272.05 L258.87,273.03 L259.16,273.67 L259.41,274.09 L259.68,274.45 L260.04,274.93 L260.53,275.59 L261.11,276.32 L261.71,277.09 L262.23,277.85 L262.64,278.63 L263.00,279.46 L263.34,280.21 L263.69,280.77 L264.05,281.14 L264.42,281.38 L264.78,281.42 L265.15,281.20 L265.50,280.60 L265.86,279.69 L266.22,278.69 L266.61,277.85 L267.03,277.08 L267.47,276.31 L267.92,275.77 L268.36,275.66 L268.77,276.32 L269.16,277.55 L269.56,278.75 L269.96,279.31 L270.40,278.91 L270.85,277.92 L271.29,276.79 L271.72,275.95 L272.09,275.43 L272.45,275.02 L272.80,274.82 L273.18,274.93 L273.59,275.46 L274.02,276.34 L274.47,277.35 L274.93,278.28 L275.40,279.11 L275.89,279.94 L276.38,280.74 L276.82,281.50 L277.23,282.18 L277.61,282.81 L277.96,283.44 L278.28,284.12 L278.57,284.79 L278.83,285.44 L279.07,286.23 L279.31,287.34 L279.53,288.84 L279.74,290.64 L279.96,292.61 L280.18,294.64 L280.42,296.66 L280.67,298.77 L280.93,301.00 L281.20,303.39 L281.49,306.05 L281.80,308.91 L282.11,311.81 L282.45,314.60 L282.79,317.21 L283.16,319.72 L283.54,322.23 L283.91,324.82 L284.27,327.54 L284.64,330.34 L285.00,333.11 L285.36,335.77 L285.73,338.36 L286.09,340.92 L286.46,343.28 L286.82,345.26 L287.17,346.85 L287.51,348.13 L287.87,349.07 L288.28,349.64 L288.78,349.75 L289.33,349.45 L289.91,348.88 L290.47,348.18 L291.04,347.23 L291.61,346.03 L292.17,344.80 L292.66,343.80 L293.08,343.00 L293.44,342.31 L293.78,341.81 L294.12,341.61 L294.49,341.76 L294.85,342.20 L295.22,342.82 L295.58,343.50 L295.93,344.23 L296.27,345.05 L296.63,345.97 L297.04,347.01 L297.56,348.23 L298.14,349.61 L298.72,351.00 L299.23,352.26 L299.66,353.36 L300.03,354.38 L300.37,355.32 L300.69,356.20 L301.00,357.18 L301.28,358.18 L301.56,358.93 L301.86,359.12 L302.20,358.56 L302.55,357.44 L302.93,356.06 L303.32,354.74 L303.73,353.54 L304.15,352.28 L304.60,350.98 L305.07,349.64 L305.61,348.15 L306.19,346.56 L306.76,345.05 L307.26,343.80 L307.69,342.89 L308.07,342.21 L308.41,341.67 L308.72,341.17 L309.01,340.64 L309.25,340.16 L309.49,339.81 L309.74,339.71 L310.00,339.94 L310.26,340.43 L310.55,341.03 L310.91,341.61 L311.39,342.19 L311.94,342.84 L312.53,343.42 L313.10,343.80 L313.65,343.92 L314.20,343.86 L314.74,343.70 L315.29,343.50 L315.86,343.37 L316.43,343.22 L316.99,342.93 L317.48,342.34 L317.91,341.28 L318.28,339.89 L318.62,338.44 L318.94,337.23 L319.25,336.27 L319.54,335.45 L319.79,334.78 L319.96,334.31" fill="none" stroke="#ED7D31" stroke-width="1.3" stroke-dasharray="3.3 1.2" stroke-linejoin="round"/>
<path d="M40.50,219.50 H320.00" stroke="#484848" stroke-width="1.3" fill="none"/>
<path d="M320.00,218.90 V380.90" stroke="#666666" stroke-width="1.4" fill="none"/>
<path d="M44.50,219.50 V380.90" stroke="#363636" stroke-width="1.15" fill="none"/>
<path d="M40.50,377.40 H320.00" stroke="#3c3c3c" stroke-width="1.15" fill="none"/>
<text transform="translate(33.50,223.96) scale(0.895,1)" font-size="13.2" text-anchor="end">8</text>
<path d="M40.50,242.06 H44.50" stroke="#363636" stroke-width="1.1" fill="none"/>
<text transform="translate(33.50,246.52) scale(0.895,1)" font-size="13.2" text-anchor="end">6</text>
<path d="M40.50,264.61 H44.50" stroke="#363636" stroke-width="1.1" fill="none"/>
<text transform="translate(33.50,269.08) scale(0.895,1)" font-size="13.2" text-anchor="end">4</text>
<path d="M40.50,287.17 H44.50" stroke="#363636" stroke-width="1.1" fill="none"/>
<text transform="translate(33.50,291.63) scale(0.895,1)" font-size="13.2" text-anchor="end">2</text>
<path d="M40.50,309.73 H44.50" stroke="#363636" stroke-width="1.1" fill="none"/>
<text transform="translate(33.50,314.19) scale(0.895,1)" font-size="13.2" text-anchor="end">0</text>
<path d="M40.50,332.29 H44.50" stroke="#363636" stroke-width="1.1" fill="none"/>
<text transform="translate(33.50,336.75) scale(0.895,1)" font-size="13.2" text-anchor="end">-2</text>
<path d="M40.50,354.84 H44.50" stroke="#363636" stroke-width="1.1" fill="none"/>
<text transform="translate(33.50,359.30) scale(0.895,1)" font-size="13.2" text-anchor="end">-4</text>
<text transform="translate(33.50,381.86) scale(0.895,1)" font-size="13.2" text-anchor="end">-6</text>
<text transform="translate(44.50,395.70) scale(0.895,1)" font-size="13.2" text-anchor="middle">0</text>
<path d="M99.60,377.40 V381.00" stroke="#363636" stroke-width="1.1" fill="none"/>
<text transform="translate(99.60,395.70) scale(0.895,1)" font-size="13.2" text-anchor="middle">20</text>
<path d="M154.70,377.40 V381.00" stroke="#363636" stroke-width="1.1" fill="none"/>
<text transform="translate(154.70,395.70) scale(0.895,1)" font-size="13.2" text-anchor="middle">40</text>
<path d="M209.80,377.40 V381.00" stroke="#363636" stroke-width="1.1" fill="none"/>
<text transform="translate(209.80,395.70) scale(0.895,1)" font-size="13.2" text-anchor="middle">60</text>
<path d="M264.90,377.40 V381.00" stroke="#363636" stroke-width="1.1" fill="none"/>
<text transform="translate(264.90,395.70) scale(0.895,1)" font-size="13.2" text-anchor="middle">80</text>
<text transform="translate(320.00,395.70) scale(0.895,1)" font-size="13.2" text-anchor="middle">100</text>
<text transform="translate(181.80,411.00) scale(0.945,1)" font-size="12.9" text-anchor="middle">Time (s)</text>
<text transform="translate(9.60,296.95) rotate(-90) scale(0.945,1)" font-size="12.9" text-anchor="middle">Pressure head change (m)</text>
<text x="310.00" y="233.60" font-size="12.0" text-anchor="middle">(b)</text>
<path d="M199.50,354.10 H219.50" stroke="#4472C4" stroke-width="1.25" fill="none"/>
<path d="M199.50,366.60 H219.50" stroke="#ED7D31" stroke-width="1.25" stroke-dasharray="2.9 1.5" fill="none"/>
<text transform="translate(221.50,358.00) scale(0.900,1)" font-size="12.0">Measurement</text>
<text transform="translate(221.50,370.40) scale(0.900,1)" font-size="12.0">Calculation</text>
</g>
<g id="panel-c">
<path d="M397.00,83.80 L397.12,82.18 L397.30,79.85 L397.49,77.20 L397.67,74.60 L397.81,71.94 L397.92,69.11 L398.06,66.40 L398.26,64.12 L398.55,62.49 L398.90,61.28 L399.26,60.22 L399.57,59.01 L399.78,57.67 L399.94,56.32 L400.10,54.86 L400.30,53.18 L400.56,51.29 L400.86,49.25 L401.18,46.98 L401.47,44.42 L401.73,41.41 L401.99,38.03 L402.24,34.56 L402.49,31.28 L402.74,28.09 L402.99,24.91 L403.25,21.99 L403.51,19.60 L403.80,17.72 L404.09,16.24 L404.39,15.27 L404.68,14.93 L404.94,15.39 L405.19,16.56 L405.44,18.08 L405.70,19.60 L405.98,21.30 L406.26,23.27 L406.55,25.05 L406.87,26.17 L407.22,26.21 L407.61,25.53 L407.99,24.80 L408.33,24.71 L408.61,25.40 L408.86,26.53 L409.09,28.03 L409.35,29.82 L409.63,32.12 L409.91,34.88 L410.20,37.67 L410.52,40.04 L410.87,41.91 L411.25,43.50 L411.63,44.83 L411.98,45.88 L412.28,46.69 L412.56,47.24 L412.84,47.48 L413.15,47.34 L413.48,46.69 L413.84,45.60 L414.21,44.29 L414.61,42.96 L415.01,41.63 L415.44,40.22 L415.88,38.71 L416.36,37.12 L416.87,35.33 L417.43,33.38 L417.99,31.47 L418.55,29.82 L419.11,28.31 L419.69,26.90 L420.24,25.85 L420.74,25.44 L421.14,25.85 L421.47,26.90 L421.80,28.31 L422.20,29.82 L422.69,31.47 L423.25,33.38 L423.82,35.33 L424.39,37.12 L424.95,38.78 L425.53,40.38 L426.08,41.82 L426.58,42.96 L426.99,43.76 L427.35,44.31 L427.69,44.61 L428.04,44.71 L428.38,44.63 L428.72,44.35 L429.08,43.82 L429.50,42.96 L429.99,41.58 L430.55,39.79 L431.12,37.94 L431.69,36.39 L432.25,35.20 L432.83,34.20 L433.38,33.38 L433.88,32.74 L434.28,32.25 L434.61,31.92 L434.94,31.81 L435.34,32.01 L435.83,32.53 L436.39,33.33 L436.96,34.39 L437.53,35.66 L438.07,37.33 L438.62,39.35 L439.17,41.35 L439.72,42.96 L440.28,44.05 L440.86,44.83 L441.41,45.40 L441.91,45.88 L442.30,46.26 L442.64,46.51 L442.97,46.63 L443.36,46.61 L443.86,46.39 L444.41,46.01 L444.99,45.56 L445.55,45.15 L446.09,44.74 L446.60,44.30 L447.15,43.92 L447.74,43.69 L448.44,43.66 L449.20,43.78 L449.97,43.96 L450.66,44.12 L451.26,44.30 L451.80,44.51 L452.32,44.67 L452.85,44.71 L453.42,44.57 L453.99,44.30 L454.55,43.98 L455.04,43.69 L455.47,43.35 L455.85,42.96 L456.19,42.67 L456.50,42.66 L456.80,42.91 L457.06,43.34 L457.30,44.05 L457.53,45.15 L457.73,46.78 L457.91,48.86 L458.08,51.09 L458.26,53.18 L458.43,55.12 L458.61,57.04 L458.79,58.86 L458.99,60.47 L459.20,61.87 L459.43,63.10 L459.66,64.14 L459.86,65.00 L460.02,65.45 L460.15,65.57 L460.29,65.79 L460.45,66.57 L460.64,68.07 L460.86,70.04 L461.09,72.29 L461.32,74.60 L461.57,76.97 L461.82,79.48 L462.08,82.11 L462.34,84.82 L462.60,87.70 L462.86,90.75 L463.12,93.75 L463.36,96.50 L463.59,99.01 L463.80,101.38 L464.02,103.49 L464.24,105.26 L464.48,106.73 L464.72,107.95 L464.97,108.73 L465.26,108.91 L465.58,108.18 L465.92,106.72 L466.30,105.07 L466.72,103.80 L467.24,103.11 L467.82,102.70 L468.40,102.29 L468.91,101.61 L469.33,100.59 L469.69,99.37 L470.02,98.00 L470.37,96.50 L470.74,94.70 L471.12,92.64 L471.49,90.68 L471.83,89.20 L472.14,88.24 L472.42,87.62 L472.69,87.35 L473.00,87.45 L473.34,87.97 L473.69,88.90 L474.07,90.08 L474.46,91.39 L474.88,92.90 L475.32,94.64 L475.77,96.41 L476.21,97.96 L476.66,99.19 L477.11,100.24 L477.55,101.24 L477.96,102.34 L478.36,103.65 L478.73,105.07 L479.09,106.41 L479.42,107.45 L479.73,108.22 L480.01,108.81 L480.29,109.09 L480.59,108.91 L480.94,108.14 L481.30,106.90 L481.68,105.38 L482.05,103.80 L482.42,102.11 L482.78,100.24 L483.15,98.32 L483.51,96.50 L483.87,94.73 L484.22,92.98 L484.59,91.35 L484.97,89.93 L485.38,88.69 L485.82,87.60 L486.27,86.76 L486.72,86.28 L487.20,86.18 L487.69,86.41 L488.17,86.94 L488.62,87.74 L489.03,88.82 L489.41,90.20 L489.76,91.81 L490.08,93.58 L490.36,95.49 L490.61,97.59 L490.85,99.87 L491.10,102.34 L491.39,105.29 L491.70,108.63 L492.00,111.75 L492.27,114.01 L492.49,114.92 L492.69,114.91 L492.89,114.81 L493.14,115.44 L493.46,117.13 L493.81,119.40 L494.20,121.89 L494.60,124.20 L495.01,126.34 L495.45,128.49 L495.90,130.49 L496.35,132.23 L496.82,133.61 L497.32,134.74 L497.80,135.70 L498.25,136.61 L498.63,137.37 L498.98,137.97 L499.32,138.62 L499.71,139.53 L500.16,141.07 L500.66,143.04 L501.15,144.71 L501.61,145.36 L501.99,144.53 L502.34,142.67 L502.69,140.52 L503.07,138.80 L503.49,137.54 L503.94,136.42 L504.39,135.58 L504.82,135.15 L505.20,135.44 L505.57,136.29 L505.92,137.11 L506.28,137.34 L506.65,136.75 L507.03,135.69 L507.39,134.36 L507.74,132.96 L508.05,131.35 L508.33,129.51 L508.61,127.74 L508.91,126.39 L509.21,125.49 L509.52,124.90 L509.85,124.61 L510.22,124.64 L510.65,125.22 L511.11,126.27 L511.61,127.31 L512.12,127.85 L512.66,127.56 L513.24,126.77 L513.80,125.97 L514.31,125.66 L514.72,125.98 L515.08,126.66 L515.42,127.57 L515.77,128.58 L516.14,129.80 L516.52,131.25 L516.89,132.64 L517.23,133.69 L517.49,134.33 L517.71,134.72 L517.94,134.85 L518.25,134.71 L518.65,134.25 L519.12,133.49 L519.63,132.53 L520.15,131.50 L520.69,130.42 L521.27,129.24 L521.83,127.91 L522.34,126.39 L522.75,124.52 L523.11,122.37 L523.45,120.23 L523.80,118.36 L524.17,116.78 L524.54,115.36 L524.91,114.17 L525.26,113.25 L525.55,112.62 L525.82,112.26 L526.10,112.14 L526.42,112.23 L526.81,112.54 L527.24,113.08 L527.69,113.82 L528.18,114.71 L528.70,115.80 L529.26,117.10 L529.83,118.48 L530.36,119.82 L530.86,121.20 L531.34,122.66 L531.81,123.98 L532.26,124.93 L532.72,125.51 L533.17,125.81 L533.60,125.79 L534.01,125.36 L534.40,124.47 L534.76,123.17 L535.12,121.57 L535.47,119.82 L535.84,117.79 L536.20,115.46 L536.57,113.12 L536.93,111.06 L537.29,109.38 L537.65,107.91 L538.01,106.56 L538.39,105.22 L538.81,103.85 L539.24,102.51 L539.69,101.25 L540.15,100.11 L540.62,98.94 L541.11,97.76 L541.60,96.92 L542.04,96.75 L542.43,97.47 L542.77,98.86 L543.12,100.58 L543.50,102.30 L543.94,104.12 L544.42,106.16 L544.91,108.09 L545.40,109.60 L545.91,110.57 L546.42,111.20 L546.94,111.57 L547.45,111.79 L547.94,111.93 L548.43,111.93 L548.90,111.67 L549.34,111.06 L549.75,109.99 L550.13,108.55 L550.48,106.90 L550.80,105.22 L551.10,103.40 L551.38,101.41 L551.62,99.50 L551.82,97.92 L551.94,96.98 L552.00,96.46 L552.07,95.85 L552.23,94.64 L552.51,92.57 L552.87,89.96 L553.28,87.13 L553.69,84.42 L554.09,81.86 L554.52,79.31 L554.96,76.75 L555.44,74.20 L555.95,71.57 L556.51,68.91 L557.07,66.33 L557.63,63.98 L558.18,61.90 L558.74,60.01 L559.29,58.28 L559.82,56.68 L560.32,55.04 L560.79,53.44 L561.26,52.18 L561.72,51.57 L562.16,52.02 L562.60,53.26 L563.03,54.56 L563.47,55.22 L563.91,54.97 L564.35,54.22 L564.79,53.23 L565.22,52.30 L565.63,51.25 L566.02,50.02 L566.42,49.01 L566.82,48.65 L567.26,49.26 L567.71,50.55 L568.16,51.98 L568.58,53.03 L568.95,53.61 L569.28,54.00 L569.63,54.15 L570.04,54.05 L570.55,53.43 L571.13,52.40 L571.71,51.46 L572.23,51.13 L572.64,51.69 L573.00,52.83 L573.34,54.14 L573.69,55.22 L574.05,56.12 L574.42,57.00 L574.78,57.64 L575.15,57.85 L575.51,57.41 L575.88,56.49 L576.24,55.41 L576.61,54.49 L576.97,53.66 L577.34,52.79 L577.70,52.16 L578.07,52.01 L578.42,52.55 L578.77,53.59 L579.13,54.83 L579.53,55.95 L579.97,56.92 L580.46,57.88 L580.95,58.80 L581.42,59.60 L581.86,60.23 L582.28,60.74 L582.71,61.22 L583.18,61.79 L583.70,62.70 L584.28,63.83 L584.85,64.67 L585.36,64.71 L585.83,63.67 L586.26,61.86 L586.65,59.69 L587.01,57.55 L587.30,55.51 L587.53,53.37 L587.76,51.13 L588.03,48.80 L588.36,46.31 L588.73,43.69 L589.11,41.06 L589.49,38.58 L589.84,36.28 L590.19,34.11 L590.55,31.97 L590.95,29.82 L591.40,27.53 L591.90,25.16 L592.39,22.94 L592.85,21.06 L593.25,19.59 L593.63,18.43 L593.98,17.49 L594.31,16.68 L594.59,15.92 L594.84,15.28 L595.08,14.90 L595.33,14.93 L595.57,15.43 L595.81,16.33 L596.06,17.51 L596.35,18.87 L596.68,20.46 L597.05,22.31 L597.43,24.26 L597.81,26.17 L598.18,28.01 L598.54,29.86 L598.91,31.69 L599.27,33.47 L599.64,35.22 L600.00,36.95 L600.36,38.59 L600.73,40.04 L601.08,41.39 L601.43,42.66 L601.79,43.63 L602.19,44.12 L602.63,43.93 L603.09,43.20 L603.58,42.28 L604.09,41.50 L604.63,40.94 L605.21,40.42 L605.77,39.90 L606.28,39.31 L606.69,38.65 L607.05,37.94 L607.39,37.19 L607.74,36.39 L608.11,35.35 L608.49,34.15 L608.85,33.15 L609.20,32.74 L609.50,33.07 L609.78,33.92 L610.06,35.10 L610.36,36.39 L610.70,37.89 L611.06,39.67 L611.43,41.45 L611.82,42.96 L612.25,44.09 L612.70,45.01 L613.15,45.81 L613.58,46.61 L613.96,47.35 L614.32,48.02 L614.68,48.71 L615.04,49.53 L615.40,50.56 L615.77,51.74 L616.13,52.91 L616.50,53.91 L616.86,54.76 L617.23,55.53 L617.59,56.11 L617.96,56.39 L618.31,56.19 L618.66,55.62 L619.02,55.00 L619.42,54.64 L619.86,54.62 L620.35,54.77 L620.84,55.04 L621.31,55.36 L621.75,55.79 L622.17,56.34 L622.60,56.87 L623.07,57.26 L623.58,57.37 L624.13,57.30 L624.70,57.28 L625.26,57.55 L625.80,58.30 L626.35,59.35 L626.90,60.42 L627.45,61.20 L627.99,61.56 L628.54,61.66 L629.09,61.72 L629.64,61.93 L630.20,62.36 L630.78,62.88 L631.34,63.47 L631.82,64.12 L632.20,64.80 L632.50,65.53 L632.80,66.35 L633.18,67.30 L633.66,68.44 L634.22,69.73 L634.80,71.09 L635.36,72.41 L635.92,73.71 L636.49,75.03 L637.04,76.31 L637.55,77.52 L638.02,78.79 L638.45,80.09 L638.87,81.13 L639.31,81.61 L639.76,81.26 L640.23,80.32 L640.71,79.18 L641.20,78.25 L641.73,77.59 L642.28,77.02 L642.84,76.51 L643.39,76.06 L643.97,75.68 L644.55,75.37 L645.11,75.12 L645.58,74.89 L645.95,74.58 L646.24,74.23 L646.49,74.07 L646.75,74.31 L647.01,74.97 L647.26,75.97 L647.51,77.30 L647.77,78.98 L648.05,81.18 L648.34,83.83 L648.64,86.61 L648.94,89.20 L649.26,91.52 L649.60,93.76 L649.93,95.90 L650.26,97.96 L650.56,99.88 L650.85,101.70 L651.13,103.46 L651.42,105.26 L651.73,107.17 L652.03,109.14 L652.33,111.00 L652.59,112.55 L652.79,113.61 L652.94,114.31 L653.10,115.00 L653.32,116.06 L653.63,117.70 L654.01,119.70 L654.40,121.70 L654.78,123.36 L655.14,124.65 L655.49,125.73 L655.86,126.54 L656.24,127.01 L656.65,127.09 L657.07,126.82 L657.52,126.29 L657.99,125.55 L658.52,124.46 L659.08,123.04 L659.65,121.60 L660.18,120.44 L660.69,119.64 L661.18,119.04 L661.64,118.59 L662.08,118.25 L662.47,117.96 L662.82,117.76 L663.16,117.74 L663.54,117.96 L663.96,118.47 L664.40,119.22 L664.85,120.15 L665.29,121.17 L665.74,122.38 L666.19,123.79 L666.63,125.16 L667.04,126.28 L667.43,127.13 L667.79,127.83 L668.15,128.30 L668.50,128.47 L668.87,128.31 L669.23,127.87 L669.60,127.18 L669.96,126.28 L670.33,125.06 L670.68,123.54 L671.05,121.93 L671.42,120.44 L671.85,118.99 L672.32,117.52 L672.74,116.23 L673.03,115.33" fill="none" stroke="#4472C4" stroke-width="1.4" stroke-linejoin="round" stroke-linecap="round"/>
<path d="M397.00,83.80 L397.12,82.18 L397.30,79.85 L397.49,77.20 L397.67,74.60 L397.81,71.96 L397.92,69.15 L398.06,66.45 L398.26,64.12 L398.55,62.34 L398.90,60.91 L399.26,59.64 L399.57,58.28 L399.78,56.89 L399.94,55.55 L400.10,54.11 L400.30,52.45 L400.56,50.53 L400.86,48.43 L401.18,46.15 L401.47,43.69 L401.73,40.94 L401.99,37.94 L402.24,34.89 L402.49,32.01 L402.74,29.20 L402.99,26.40 L403.25,23.85 L403.51,21.79 L403.80,20.35 L404.11,19.37 L404.41,18.69 L404.68,18.14 L404.89,17.61 L405.05,17.23 L405.22,17.11 L405.41,17.41 L405.64,18.29 L405.89,19.64 L406.16,21.16 L406.43,22.52 L406.71,23.72 L407.01,24.89 L407.30,25.97 L407.60,26.90 L407.89,27.51 L408.19,27.90 L408.48,28.33 L408.77,29.09 L409.03,30.27 L409.29,31.73 L409.54,33.33 L409.79,34.93 L410.03,36.56 L410.27,38.28 L410.52,39.97 L410.81,41.50 L411.15,42.90 L411.53,44.22 L411.92,45.34 L412.27,46.17 L412.58,46.69 L412.85,46.95 L413.13,46.93 L413.44,46.61 L413.78,45.85 L414.15,44.72 L414.53,43.43 L414.90,42.23 L415.25,41.18 L415.58,40.17 L415.94,39.10 L416.36,37.85 L416.85,36.27 L417.41,34.47 L417.98,32.71 L418.55,31.28 L419.11,30.15 L419.69,29.22 L420.24,28.59 L420.74,28.36 L421.14,28.59 L421.47,29.22 L421.80,30.15 L422.20,31.28 L422.69,32.70 L423.25,34.44 L423.82,36.24 L424.39,37.85 L424.95,39.26 L425.53,40.60 L426.08,41.77 L426.58,42.66 L426.99,43.24 L427.35,43.57 L427.69,43.69 L428.04,43.69 L428.38,43.60 L428.72,43.39 L429.08,42.96 L429.50,42.23 L429.99,41.00 L430.55,39.38 L431.12,37.72 L431.69,36.39 L432.25,35.45 L432.83,34.73 L433.38,34.18 L433.88,33.76 L434.28,33.45 L434.61,33.27 L434.94,33.26 L435.34,33.47 L435.83,33.88 L436.39,34.48 L436.96,35.30 L437.53,36.39 L438.07,37.92 L438.62,39.82 L439.17,41.72 L439.72,43.25 L440.28,44.31 L440.86,45.09 L441.41,45.68 L441.91,46.17 L442.30,46.57 L442.64,46.85 L442.97,46.97 L443.36,46.90 L443.86,46.54 L444.41,45.94 L444.99,45.27 L445.55,44.71 L446.09,44.24 L446.60,43.79 L447.15,43.43 L447.74,43.25 L448.44,43.32 L449.20,43.59 L449.97,43.91 L450.66,44.12 L451.26,44.21 L451.80,44.23 L452.32,44.21 L452.85,44.12 L453.42,43.97 L453.99,43.74 L454.55,43.49 L455.04,43.25 L455.47,42.94 L455.85,42.58 L456.19,42.33 L456.50,42.37 L456.80,42.69 L457.06,43.20 L457.30,44.00 L457.53,45.15 L457.73,46.80 L457.91,48.88 L458.08,51.10 L458.26,53.18 L458.43,55.12 L458.61,57.04 L458.79,58.86 L458.99,60.47 L459.20,61.87 L459.43,63.10 L459.66,64.14 L459.86,65.00 L460.02,65.45 L460.15,65.57 L460.29,65.79 L460.45,66.57 L460.64,68.07 L460.86,70.04 L461.09,72.29 L461.32,74.60 L461.57,76.97 L461.82,79.48 L462.08,82.11 L462.34,84.82 L462.60,87.70 L462.86,90.75 L463.12,93.75 L463.36,96.50 L463.59,99.01 L463.80,101.38 L464.02,103.49 L464.24,105.26 L464.48,106.73 L464.72,107.95 L464.97,108.73 L465.26,108.91 L465.58,108.18 L465.92,106.72 L466.30,105.07 L466.72,103.80 L467.24,103.11 L467.82,102.70 L468.40,102.29 L468.91,101.61 L469.33,100.59 L469.69,99.37 L470.02,98.00 L470.37,96.50 L470.74,94.70 L471.12,92.64 L471.49,90.68 L471.83,89.20 L472.14,88.24 L472.42,87.62 L472.69,87.35 L473.00,87.45 L473.34,87.97 L473.69,88.90 L474.07,90.08 L474.46,91.39 L474.88,92.90 L475.32,94.64 L475.77,96.41 L476.21,97.96 L476.66,99.19 L477.11,100.24 L477.55,101.24 L477.96,102.34 L478.36,103.65 L478.73,105.07 L479.09,106.41 L479.42,107.45 L479.73,108.22 L480.01,108.81 L480.29,109.09 L480.59,108.91 L480.94,108.14 L481.30,106.90 L481.68,105.38 L482.05,103.80 L482.42,102.11 L482.78,100.24 L483.15,98.32 L483.51,96.50 L483.87,94.73 L484.22,92.98 L484.59,91.35 L484.97,89.93 L485.38,88.69 L485.82,87.60 L486.27,86.76 L486.72,86.28 L487.20,86.18 L487.69,86.41 L488.17,86.94 L488.62,87.74 L489.03,88.82 L489.41,90.20 L489.76,91.81 L490.08,93.58 L490.36,95.49 L490.61,97.59 L490.85,99.87 L491.10,102.34 L491.39,105.29 L491.70,108.63 L492.00,111.75 L492.27,114.01 L492.49,114.92 L492.69,114.91 L492.89,114.81 L493.14,115.44 L493.46,117.13 L493.81,119.40 L494.20,121.89 L494.60,124.20 L495.01,126.34 L495.45,128.49 L495.90,130.49 L496.35,132.23 L496.82,133.64 L497.32,134.81 L497.80,135.78 L498.25,136.61 L498.63,137.11 L498.98,137.32 L499.32,137.61 L499.71,138.36 L500.16,140.06 L500.66,142.38 L501.15,144.44 L501.61,145.36 L501.99,144.57 L502.34,142.66 L502.69,140.45 L503.07,138.80 L503.49,137.87 L503.94,137.24 L504.39,136.85 L504.82,136.61 L505.20,136.70 L505.57,137.11 L505.92,137.44 L506.28,137.34 L506.65,136.65 L507.03,135.60 L507.39,134.32 L507.74,132.96 L508.05,131.35 L508.33,129.51 L508.61,127.74 L508.91,126.39 L509.21,125.53 L509.52,125.01 L509.85,124.73 L510.22,124.64 L510.65,124.82 L511.11,125.28 L511.61,125.79 L512.12,126.09 L512.66,126.04 L513.24,125.78 L513.80,125.57 L514.31,125.66 L514.72,126.10 L515.08,126.77 L515.42,127.61 L515.77,128.58 L516.14,129.80 L516.52,131.25 L516.89,132.64 L517.23,133.69 L517.49,134.33 L517.71,134.72 L517.94,134.85 L518.25,134.71 L518.65,134.25 L519.12,133.49 L519.63,132.53 L520.15,131.50 L520.69,130.42 L521.27,129.24 L521.83,127.91 L522.34,126.39 L522.75,124.52 L523.11,122.37 L523.45,120.23 L523.80,118.36 L524.17,116.78 L524.54,115.36 L524.91,114.17 L525.26,113.25 L525.55,112.62 L525.82,112.26 L526.10,112.14 L526.42,112.23 L526.81,112.54 L527.24,113.08 L527.69,113.82 L528.18,114.71 L528.70,115.80 L529.26,117.10 L529.83,118.48 L530.36,119.82 L530.86,121.20 L531.34,122.66 L531.81,123.98 L532.26,124.93 L532.72,125.51 L533.17,125.81 L533.60,125.79 L534.01,125.36 L534.40,124.47 L534.76,123.17 L535.12,121.57 L535.47,119.82 L535.84,117.79 L536.20,115.46 L536.57,113.12 L536.93,111.06 L537.29,109.38 L537.65,107.91 L538.01,106.56 L538.39,105.22 L538.81,103.85 L539.24,102.51 L539.69,101.25 L540.15,100.11 L540.62,98.94 L541.11,97.76 L541.60,96.92 L542.04,96.75 L542.43,97.47 L542.77,98.86 L543.12,100.58 L543.50,102.30 L543.94,104.07 L544.42,106.02 L544.91,107.94 L545.40,109.60 L545.91,111.04 L546.42,112.35 L546.94,113.38 L547.45,113.98 L547.94,114.09 L548.43,113.81 L548.90,113.18 L549.34,112.23 L549.75,110.85 L550.13,109.07 L550.48,107.11 L550.80,105.22 L551.10,103.32 L551.38,101.34 L551.62,99.47 L551.82,97.92 L551.94,96.98 L552.00,96.46 L552.07,95.85 L552.23,94.64 L552.51,92.57 L552.87,89.96 L553.28,87.13 L553.69,84.42 L554.09,81.86 L554.52,79.31 L554.96,76.75 L555.44,74.20 L555.95,71.57 L556.51,68.89 L557.07,66.31 L557.63,63.98 L558.18,61.94 L558.74,60.11 L559.29,58.46 L559.82,56.97 L560.32,55.50 L560.79,54.11 L561.26,53.05 L561.72,52.59 L562.16,53.13 L562.60,54.42 L563.03,55.74 L563.47,56.39 L563.91,56.08 L564.35,55.23 L564.79,54.15 L565.22,53.18 L565.63,52.17 L566.02,51.03 L566.42,50.13 L566.82,49.82 L567.26,50.42 L567.71,51.67 L568.16,53.05 L568.58,54.05 L568.95,54.59 L569.28,54.92 L569.63,55.03 L570.04,54.93 L570.55,54.37 L571.13,53.44 L571.71,52.60 L572.23,52.30 L572.64,52.80 L573.00,53.80 L573.34,54.97 L573.69,55.95 L574.05,56.78 L574.42,57.62 L574.78,58.24 L575.15,58.43 L575.51,58.01 L575.88,57.14 L576.24,56.10 L576.61,55.22 L576.97,54.40 L577.34,53.55 L577.70,52.91 L578.07,52.74 L578.42,53.21 L578.77,54.16 L579.13,55.31 L579.53,56.39 L579.97,57.39 L580.46,58.43 L580.95,59.44 L581.42,60.33 L581.86,61.03 L582.28,61.61 L582.71,62.16 L583.18,62.81 L583.70,63.87 L584.28,65.18 L584.85,66.15 L585.36,66.17 L585.83,64.86 L586.26,62.62 L586.65,60.00 L587.01,57.55 L587.30,55.41 L587.53,53.28 L587.76,51.09 L588.03,48.80 L588.36,46.31 L588.73,43.69 L589.11,41.06 L589.49,38.58 L589.84,36.28 L590.19,34.11 L590.55,31.97 L590.95,29.82 L591.40,27.53 L591.90,25.16 L592.39,22.94 L592.85,21.06 L593.25,19.59 L593.63,18.41 L593.98,17.47 L594.31,16.68 L594.59,15.99 L594.84,15.45 L595.08,15.16 L595.33,15.22 L595.57,15.69 L595.81,16.50 L596.06,17.58 L596.35,18.87 L596.68,20.44 L597.05,22.29 L597.43,24.26 L597.81,26.17 L598.18,28.01 L598.54,29.86 L598.91,31.69 L599.27,33.47 L599.64,35.23 L600.00,36.98 L600.36,38.62 L600.73,40.04 L601.08,41.29 L601.43,42.41 L601.79,43.25 L602.19,43.69 L602.63,43.55 L603.09,42.96 L603.58,42.18 L604.09,41.50 L604.63,40.97 L605.21,40.45 L605.77,39.91 L606.28,39.31 L606.69,38.64 L607.05,37.92 L607.39,37.16 L607.74,36.39 L608.11,35.42 L608.49,34.32 L608.85,33.41 L609.20,33.03 L609.50,33.32 L609.78,34.09 L610.06,35.16 L610.36,36.39 L610.70,37.87 L611.06,39.65 L611.43,41.44 L611.82,42.96 L612.25,44.09 L612.70,45.01 L613.15,45.81 L613.58,46.61 L613.96,47.36 L614.32,48.04 L614.68,48.73 L615.04,49.53 L615.40,50.52 L615.77,51.64 L616.13,52.73 L616.50,53.61 L616.86,54.30 L617.23,54.86 L617.59,55.24 L617.96,55.36 L618.31,55.13 L618.66,54.59 L619.02,53.97 L619.42,53.47 L619.86,53.04 L620.35,52.61 L620.84,52.35 L621.31,52.45 L621.75,53.08 L622.17,54.11 L622.60,55.23 L623.07,56.09 L623.58,56.56 L624.13,56.82 L624.70,57.09 L625.26,57.55 L625.80,58.35 L626.35,59.33 L626.90,60.34 L627.45,61.20 L627.99,61.88 L628.54,62.45 L629.09,62.95 L629.64,63.39 L630.20,63.72 L630.78,63.94 L631.34,64.18 L631.82,64.56 L632.20,65.10 L632.50,65.73 L632.80,66.46 L633.18,67.30 L633.66,68.27 L634.22,69.37 L634.80,70.52 L635.36,71.68 L635.92,72.86 L636.49,74.08 L637.04,75.27 L637.55,76.35 L638.02,77.41 L638.45,78.44 L638.87,79.27 L639.31,79.71 L639.76,79.61 L640.23,79.10 L640.71,78.42 L641.20,77.81 L641.73,77.29 L642.28,76.74 L642.84,76.22 L643.39,75.77 L643.97,75.40 L644.55,75.08 L645.11,74.82 L645.58,74.60 L645.95,74.31 L646.24,74.01 L646.49,73.88 L646.75,74.16 L647.01,74.87 L647.26,75.90 L647.51,77.27 L647.77,78.98 L648.05,81.19 L648.34,83.84 L648.64,86.62 L648.94,89.20 L649.26,91.52 L649.60,93.76 L649.93,95.90 L650.26,97.96 L650.56,99.88 L650.85,101.70 L651.13,103.46 L651.42,105.26 L651.73,107.17 L652.03,109.14 L652.33,111.00 L652.59,112.55 L652.79,113.59 L652.94,114.26 L653.10,114.95 L653.32,116.06 L653.63,117.82 L654.01,119.99 L654.40,122.20 L654.78,124.09 L655.14,125.69 L655.49,127.16 L655.86,128.30 L656.24,128.91 L656.65,128.85 L657.07,128.26 L657.52,127.33 L657.99,126.28 L658.52,124.96 L659.08,123.35 L659.65,121.74 L660.18,120.44 L660.69,119.53 L661.18,118.85 L661.64,118.34 L662.08,117.96 L662.47,117.64 L662.82,117.44 L663.16,117.42 L663.54,117.66 L663.96,118.22 L664.40,119.03 L664.85,120.04 L665.29,121.17 L665.74,122.51 L666.19,124.06 L666.63,125.63 L667.04,127.01 L667.43,128.29 L667.79,129.54 L668.15,130.51 L668.50,130.95 L668.87,130.74 L669.23,130.03 L669.60,128.97 L669.96,127.74 L670.33,126.21 L670.68,124.37 L671.05,122.46 L671.42,120.73 L671.85,119.14 L672.32,117.59 L672.74,116.26 L673.03,115.33" fill="none" stroke="#ED7D31" stroke-width="1.3" stroke-dasharray="3.3 1.2" stroke-linejoin="round"/>
<path d="M393.00,5.20 H673.00" stroke="#626262" stroke-width="1.3" fill="none"/>
<path d="M673.00,4.60 V166.00" stroke="#626262" stroke-width="1.4" fill="none"/>
<path d="M397.00,5.20 V166.00" stroke="#7a7a7a" stroke-width="1.7" fill="none"/>
<path d="M393.00,162.50 H673.00" stroke="#363636" stroke-width="1.15" fill="none"/>
<text transform="translate(386.80,9.66) scale(0.895,1)" font-size="13.2" text-anchor="end">8</text>
<path d="M393.00,24.86 H397.00" stroke="#363636" stroke-width="1.1" fill="none"/>
<text transform="translate(386.80,29.32) scale(0.895,1)" font-size="13.2" text-anchor="end">6</text>
<path d="M393.00,44.53 H397.00" stroke="#363636" stroke-width="1.1" fill="none"/>
<text transform="translate(386.80,48.99) scale(0.895,1)" font-size="13.2" text-anchor="end">4</text>
<path d="M393.00,64.19 H397.00" stroke="#363636" stroke-width="1.1" fill="none"/>
<text transform="translate(386.80,68.65) scale(0.895,1)" font-size="13.2" text-anchor="end">2</text>
<path d="M393.00,83.85 H397.00" stroke="#363636" stroke-width="1.1" fill="none"/>
<text transform="translate(386.80,88.31) scale(0.895,1)" font-size="13.2" text-anchor="end">0</text>
<path d="M393.00,103.51 H397.00" stroke="#363636" stroke-width="1.1" fill="none"/>
<text transform="translate(386.80,107.97) scale(0.895,1)" font-size="13.2" text-anchor="end">-2</text>
<path d="M393.00,123.18 H397.00" stroke="#363636" stroke-width="1.1" fill="none"/>
<text transform="translate(386.80,127.64) scale(0.895,1)" font-size="13.2" text-anchor="end">-4</text>
<path d="M393.00,142.84 H397.00" stroke="#363636" stroke-width="1.1" fill="none"/>
<text transform="translate(386.80,147.30) scale(0.895,1)" font-size="13.2" text-anchor="end">-6</text>
<text transform="translate(386.80,166.96) scale(0.895,1)" font-size="13.2" text-anchor="end">-8</text>
<text transform="translate(397.00,180.80) scale(0.895,1)" font-size="13.2" text-anchor="middle">0</text>
<path d="M452.20,162.50 V166.10" stroke="#363636" stroke-width="1.1" fill="none"/>
<text transform="translate(452.20,180.80) scale(0.895,1)" font-size="13.2" text-anchor="middle">20</text>
<path d="M507.40,162.50 V166.10" stroke="#363636" stroke-width="1.1" fill="none"/>
<text transform="translate(507.40,180.80) scale(0.895,1)" font-size="13.2" text-anchor="middle">40</text>
<path d="M562.60,162.50 V166.10" stroke="#363636" stroke-width="1.1" fill="none"/>
<text transform="translate(562.60,180.80) scale(0.895,1)" font-size="13.2" text-anchor="middle">60</text>
<path d="M617.80,162.50 V166.10" stroke="#363636" stroke-width="1.1" fill="none"/>
<text transform="translate(617.80,180.80) scale(0.895,1)" font-size="13.2" text-anchor="middle">80</text>
<text transform="translate(673.00,180.80) scale(0.895,1)" font-size="13.2" text-anchor="middle">100</text>
<text transform="translate(534.50,196.60) scale(0.945,1)" font-size="12.9" text-anchor="middle">Time (s)</text>
<text transform="translate(361.70,82.00) rotate(-90) scale(0.945,1)" font-size="12.9" text-anchor="middle">Pressure head change (m)</text>
<text x="663.00" y="18.20" font-size="12.0" text-anchor="middle">(c)</text>
<path d="M561.30,138.60 H581.30" stroke="#4472C4" stroke-width="1.25" fill="none"/>
<path d="M561.30,151.00 H581.30" stroke="#ED7D31" stroke-width="1.25" stroke-dasharray="2.9 1.5" fill="none"/>
<text transform="translate(583.00,142.50) scale(0.900,1)" font-size="12.0">Measurement</text>
<text transform="translate(583.00,154.80) scale(0.900,1)" font-size="12.0">Calculation</text>
</g>
<g id="panel-d">
<path d="M396.50,297.00 L396.67,295.62 L396.91,293.64 L397.17,291.48 L397.38,289.60 L397.52,288.09 L397.63,286.71 L397.72,285.43 L397.82,284.20 L397.92,283.02 L398.03,281.91 L398.14,280.84 L398.26,279.82 L398.38,278.83 L398.50,277.86 L398.65,276.97 L398.84,276.18 L399.09,275.66 L399.40,275.35 L399.71,274.91 L400.01,273.99 L400.27,272.41 L400.53,270.38 L400.78,268.15 L401.03,265.96 L401.29,263.89 L401.55,261.80 L401.81,259.61 L402.05,257.20 L402.28,254.35 L402.49,251.18 L402.70,248.10 L402.93,245.52 L403.17,243.52 L403.43,241.89 L403.69,240.61 L403.95,239.68 L404.20,239.10 L404.45,238.88 L404.71,238.98 L404.97,239.39 L405.26,240.21 L405.55,241.43 L405.85,242.79 L406.14,244.06 L406.40,245.33 L406.65,246.68 L406.90,247.81 L407.16,248.44 L407.45,248.18 L407.74,247.30 L408.04,246.44 L408.33,246.25 L408.59,246.89 L408.84,248.03 L409.09,249.55 L409.35,251.36 L409.63,253.69 L409.91,256.51 L410.20,259.31 L410.52,261.58 L410.86,263.12 L411.23,264.24 L411.61,265.12 L411.98,265.96 L412.34,266.88 L412.71,267.75 L413.07,268.39 L413.44,268.58 L413.80,268.21 L414.15,267.39 L414.51,266.33 L414.90,265.23 L415.31,264.09 L415.75,262.83 L416.19,261.49 L416.65,260.12 L417.12,258.66 L417.62,257.11 L418.10,255.60 L418.55,254.28 L418.95,253.17 L419.32,252.20 L419.67,251.36 L420.01,250.63 L420.31,249.94 L420.59,249.32 L420.87,248.92 L421.18,248.88 L421.51,249.30 L421.87,250.10 L422.24,251.09 L422.64,252.09 L423.05,253.08 L423.48,254.16 L423.93,255.29 L424.39,256.47 L424.85,257.74 L425.34,259.11 L425.82,260.44 L426.28,261.58 L426.73,262.55 L427.17,263.40 L427.60,264.07 L428.04,264.50 L428.47,264.66 L428.90,264.59 L429.34,264.29 L429.79,263.77 L430.25,262.89 L430.73,261.71 L431.21,260.46 L431.69,259.39 L432.16,258.51 L432.64,257.72 L433.12,257.03 L433.58,256.47 L434.02,256.00 L434.44,255.62 L434.87,255.41 L435.34,255.45 L435.86,255.77 L436.42,256.35 L436.99,257.09 L437.53,257.93 L438.02,258.92 L438.48,260.09 L438.95,261.27 L439.42,262.31 L439.93,263.17 L440.45,263.95 L440.96,264.63 L441.47,265.23 L441.95,265.74 L442.43,266.17 L442.89,266.49 L443.36,266.69 L443.84,266.74 L444.32,266.67 L444.80,266.49 L445.26,266.25 L445.70,265.86 L446.12,265.34 L446.55,264.84 L447.01,264.50 L447.53,264.36 L448.08,264.34 L448.65,264.40 L449.20,264.50 L449.75,264.60 L450.30,264.74 L450.85,264.94 L451.39,265.23 L451.94,265.70 L452.49,266.31 L453.04,266.86 L453.58,267.12 L454.13,266.99 L454.68,266.59 L455.23,266.09 L455.77,265.66 L456.32,265.34 L456.87,265.03 L457.42,264.75 L457.96,264.50 L458.54,264.18 L459.13,263.83 L459.69,263.63 L460.15,263.77 L460.50,264.29 L460.76,265.09 L460.97,266.14 L461.18,267.42 L461.37,268.98 L461.53,270.84 L461.70,272.80 L461.91,274.72 L462.17,276.64 L462.46,278.64 L462.77,280.50 L463.07,282.01 L463.37,282.98 L463.67,283.55 L463.96,284.08 L464.24,284.93 L464.51,286.18 L464.76,287.63 L465.01,289.27 L465.26,291.06 L465.52,293.06 L465.78,295.27 L466.04,297.57 L466.28,299.82 L466.51,302.09 L466.72,304.43 L466.93,306.64 L467.16,308.58 L467.41,310.20 L467.68,311.59 L467.94,312.75 L468.18,313.69 L468.37,314.44 L468.52,315.01 L468.69,315.28 L468.91,315.15 L469.21,314.39 L469.55,313.14 L469.94,311.79 L470.37,310.77 L470.89,310.21 L471.47,309.90 L472.05,309.65 L472.56,309.31 L472.98,308.86 L473.34,308.39 L473.67,307.84 L474.02,307.12 L474.40,306.09 L474.78,304.84 L475.15,303.63 L475.48,302.74 L475.76,302.20 L475.99,301.87 L476.23,301.80 L476.50,302.01 L476.83,302.59 L477.18,303.51 L477.56,304.59 L477.96,305.66 L478.41,306.75 L478.89,307.93 L479.38,309.07 L479.86,310.04 L480.34,310.77 L480.83,311.36 L481.31,311.88 L481.75,312.41 L482.14,313.12 L482.48,313.93 L482.83,314.52 L483.21,314.60 L483.65,313.97 L484.11,312.82 L484.60,311.47 L485.11,310.22 L485.64,309.07 L486.19,307.89 L486.74,306.78 L487.30,305.84 L487.86,305.10 L488.44,304.52 L488.99,304.04 L489.49,303.65 L489.91,303.28 L490.26,302.97 L490.60,302.81 L490.95,302.92 L491.32,303.32 L491.71,303.97 L492.07,304.82 L492.41,305.84 L492.69,307.03 L492.94,308.39 L493.18,309.95 L493.43,311.68 L493.71,313.66 L494.01,315.88 L494.30,318.18 L494.60,320.44 L494.88,322.66 L495.16,324.91 L495.45,327.11 L495.77,329.20 L496.10,331.09 L496.46,332.85 L496.83,334.60 L497.23,336.50 L497.64,338.63 L498.08,340.92 L498.53,343.19 L498.98,345.26 L499.42,347.13 L499.87,348.88 L500.31,350.46 L500.73,351.82 L501.12,353.10 L501.50,354.26 L501.85,355.04 L502.19,355.18 L502.50,354.45 L502.79,353.03 L503.07,351.30 L503.36,349.64 L503.64,347.94 L503.91,346.09 L504.19,344.37 L504.53,343.07 L504.93,342.38 L505.38,342.11 L505.85,341.95 L506.28,341.61 L506.67,341.05 L507.04,340.42 L507.40,339.66 L507.74,338.69 L508.04,337.36 L508.30,335.77 L508.58,334.17 L508.91,332.85 L509.29,331.79 L509.72,330.89 L510.17,330.23 L510.66,329.93 L511.17,330.18 L511.72,330.89 L512.29,331.65 L512.85,332.12 L513.41,332.05 L513.99,331.71 L514.54,331.38 L515.04,331.39 L515.45,331.84 L515.79,332.57 L516.13,333.44 L516.50,334.31 L516.93,335.23 L517.39,336.24 L517.84,337.20 L518.25,337.96 L518.57,338.55 L518.83,339.02 L519.10,339.26 L519.42,339.12 L519.81,338.43 L520.25,337.29 L520.71,336.05 L521.17,335.04 L521.64,334.41 L522.14,333.96 L522.62,333.50 L523.07,332.85 L523.45,331.94 L523.80,330.89 L524.14,329.72 L524.53,328.47 L524.97,327.02 L525.46,325.41 L525.95,323.87 L526.42,322.63 L526.87,321.70 L527.31,320.99 L527.74,320.54 L528.18,320.44 L528.61,320.81 L529.04,321.58 L529.48,322.51 L529.93,323.36 L530.39,324.09 L530.87,324.84 L531.35,325.57 L531.82,326.28 L532.30,326.99 L532.78,327.71 L533.26,328.37 L533.72,328.91 L534.17,329.40 L534.61,329.85 L535.04,330.09 L535.47,329.93 L535.92,329.26 L536.37,328.21 L536.81,326.92 L537.23,325.55 L537.61,324.04 L537.97,322.35 L538.33,320.62 L538.69,318.98 L539.04,317.45 L539.39,315.97 L539.75,314.53 L540.15,313.14 L540.60,311.73 L541.09,310.34 L541.59,309.06 L542.04,308.03 L542.44,307.21 L542.80,306.55 L543.15,306.16 L543.50,306.13 L543.86,306.54 L544.21,307.33 L544.57,308.35 L544.96,309.49 L545.41,310.79 L545.89,312.30 L546.39,313.86 L546.86,315.33 L547.31,316.73 L547.74,318.11 L548.17,319.38 L548.61,320.44 L549.08,321.33 L549.56,322.08 L550.04,322.56 L550.51,322.63 L550.97,322.16 L551.41,321.26 L551.85,320.13 L552.26,318.98 L552.65,317.82 L553.01,316.56 L553.36,315.23 L553.72,313.87 L554.09,312.46 L554.45,310.99 L554.82,309.51 L555.18,308.03 L555.56,306.58 L555.94,305.14 L556.31,303.68 L556.64,302.19 L556.90,300.62 L557.11,298.99 L557.33,297.38 L557.63,295.88 L558.04,294.50 L558.53,293.20 L559.04,291.96 L559.53,290.77 L559.96,289.64 L560.38,288.58 L560.81,287.52 L561.28,286.39 L561.81,285.16 L562.39,283.88 L562.96,282.57 L563.47,281.28 L563.88,280.02 L564.24,278.77 L564.58,277.50 L564.93,276.17 L565.29,274.64 L565.66,272.97 L566.02,271.45 L566.39,270.33 L566.75,269.75 L567.12,269.55 L567.48,269.56 L567.85,269.60 L568.21,269.76 L568.58,270.10 L568.94,270.37 L569.31,270.33 L569.68,269.80 L570.06,268.96 L570.43,268.07 L570.77,267.41 L571.05,266.97 L571.30,266.63 L571.53,266.50 L571.79,266.68 L572.06,267.27 L572.33,268.18 L572.62,269.26 L572.96,270.33 L573.35,271.49 L573.79,272.79 L574.25,273.96 L574.71,274.71 L575.19,274.88 L575.70,274.66 L576.19,274.28 L576.61,273.98 L576.90,273.73 L577.12,273.43 L577.33,273.23 L577.63,273.25 L578.05,273.62 L578.55,274.25 L579.06,274.92 L579.53,275.44 L579.92,275.84 L580.28,276.21 L580.63,276.38 L580.99,276.17 L581.36,275.35 L581.73,274.09 L582.10,272.77 L582.45,271.79 L582.74,271.21 L583.01,270.85 L583.29,270.70 L583.61,270.77 L584.02,271.20 L584.47,271.94 L584.93,272.72 L585.36,273.25 L585.74,273.39 L586.09,273.31 L586.44,273.20 L586.82,273.25 L587.27,273.60 L587.76,274.11 L588.25,274.57 L588.72,274.71 L589.18,274.49 L589.64,274.02 L590.08,273.36 L590.47,272.52 L590.81,271.46 L591.10,270.19 L591.37,268.81 L591.64,267.41 L591.88,266.14 L592.10,264.90 L592.34,263.46 L592.66,261.57 L593.11,258.99 L593.63,255.92 L594.18,252.75 L594.71,249.90 L595.20,247.40 L595.69,245.06 L596.17,242.95 L596.61,241.14 L597.00,239.64 L597.36,238.42 L597.71,237.46 L598.07,236.76 L598.43,236.28 L598.80,236.05 L599.16,236.10 L599.53,236.47 L599.89,237.19 L600.26,238.24 L600.62,239.57 L600.99,241.14 L601.34,243.08 L601.70,245.35 L602.06,247.71 L602.45,249.90 L602.86,251.86 L603.30,253.73 L603.75,255.51 L604.20,257.20 L604.63,258.80 L605.06,260.32 L605.50,261.73 L605.95,263.04 L606.42,264.34 L606.92,265.61 L607.40,266.62 L607.85,267.12 L608.24,266.98 L608.60,266.34 L608.95,265.43 L609.31,264.50 L609.66,263.44 L610.01,262.19 L610.37,261.00 L610.77,260.12 L611.21,259.64 L611.68,259.41 L612.17,259.36 L612.66,259.39 L613.17,259.51 L613.69,259.76 L614.20,260.08 L614.71,260.41 L615.20,260.65 L615.69,260.86 L616.17,261.21 L616.61,261.87 L617.00,263.00 L617.36,264.46 L617.71,266.02 L618.07,267.42 L618.42,268.64 L618.77,269.82 L619.13,270.88 L619.53,271.80 L619.97,272.51 L620.46,273.07 L620.95,273.54 L621.42,273.99 L621.88,274.38 L622.33,274.72 L622.76,275.05 L623.18,275.45 L623.55,276.04 L623.91,276.77 L624.26,277.38 L624.64,277.64 L625.06,277.38 L625.51,276.77 L625.96,276.04 L626.39,275.45 L626.76,274.94 L627.11,274.44 L627.46,274.08 L627.85,273.99 L628.29,274.31 L628.77,274.94 L629.26,275.64 L629.74,276.18 L630.22,276.43 L630.70,276.54 L631.18,276.65 L631.64,276.91 L632.10,277.27 L632.56,277.70 L633.00,278.28 L633.39,279.09 L633.74,280.25 L634.03,281.66 L634.32,283.17 L634.64,284.60 L634.97,285.97 L635.31,287.36 L635.67,288.65 L636.09,289.71 L636.60,290.44 L637.16,290.94 L637.74,291.37 L638.28,291.90 L638.78,292.59 L639.26,293.36 L639.73,294.12 L640.18,294.82 L640.64,295.55 L641.09,296.32 L641.52,296.89 L641.93,297.01 L642.31,296.51 L642.66,295.55 L643.02,294.41 L643.39,293.36 L643.81,292.43 L644.24,291.49 L644.69,290.57 L645.15,289.71 L645.61,288.90 L646.09,288.13 L646.57,287.42 L647.04,286.79 L647.53,286.15 L648.02,285.53 L648.50,285.10 L648.94,285.04 L649.34,285.45 L649.70,286.21 L650.05,287.20 L650.40,288.25 L650.77,289.38 L651.13,290.64 L651.50,291.98 L651.86,293.36 L652.23,294.73 L652.59,296.14 L652.96,297.62 L653.32,299.20 L653.69,300.89 L654.05,302.66 L654.42,304.53 L654.78,306.50 L655.15,308.68 L655.52,311.05 L655.89,313.33 L656.24,315.26 L656.56,316.68 L656.86,317.78 L657.16,318.74 L657.48,319.74 L657.82,320.86 L658.18,321.98 L658.54,323.05 L658.91,324.01 L659.27,324.87 L659.65,325.65 L660.01,326.32 L660.33,326.86 L660.59,327.29 L660.80,327.60 L661.02,327.78 L661.28,327.81 L661.60,327.61 L661.96,327.21 L662.33,326.75 L662.70,326.39 L663.05,326.14 L663.38,325.94 L663.73,325.78 L664.12,325.63 L664.57,325.47 L665.04,325.32 L665.54,325.23 L666.02,325.25 L666.51,325.39 L667.01,325.62 L667.49,325.95 L667.92,326.39 L668.28,327.01 L668.58,327.77 L668.87,328.56 L669.15,329.23 L669.44,329.77 L669.73,330.24 L670.01,330.63 L670.29,330.94 L670.56,331.15 L670.83,331.28 L671.11,331.33 L671.43,331.32 L671.82,331.25 L672.27,331.10 L672.72,330.90 L673.14,330.66 L673.52,330.34 L673.89,329.96 L674.24,329.57 L674.56,329.23 L674.87,328.94 L675.17,328.67 L675.43,328.44 L675.61,328.28" fill="none" stroke="#4472C4" stroke-width="1.4" stroke-linejoin="round" stroke-linecap="round"/>
<path d="M396.50,297.00 L396.67,295.62 L396.91,293.64 L397.17,291.48 L397.38,289.60 L397.52,288.09 L397.63,286.71 L397.72,285.43 L397.82,284.20 L397.92,283.00 L398.03,281.86 L398.14,280.79 L398.26,279.82 L398.38,278.98 L398.50,278.25 L398.65,277.57 L398.84,276.91 L399.09,276.38 L399.40,275.97 L399.71,275.40 L400.01,274.42 L400.27,272.88 L400.53,270.95 L400.78,268.82 L401.03,266.69 L401.29,264.59 L401.55,262.42 L401.81,260.19 L402.05,257.93 L402.28,255.50 L402.49,252.95 L402.70,250.52 L402.93,248.44 L403.17,246.75 L403.43,245.34 L403.69,244.20 L403.95,243.33 L404.20,242.72 L404.45,242.37 L404.71,242.32 L404.97,242.60 L405.25,243.39 L405.53,244.61 L405.82,245.92 L406.14,246.98 L406.48,247.65 L406.85,248.12 L407.23,248.57 L407.60,249.17 L407.96,249.91 L408.33,250.72 L408.69,251.67 L409.06,252.82 L409.42,254.31 L409.79,256.06 L410.15,257.83 L410.52,259.39 L410.88,260.68 L411.23,261.83 L411.59,262.86 L411.98,263.77 L412.39,264.65 L412.83,265.48 L413.27,266.07 L413.73,266.25 L414.20,265.86 L414.70,265.03 L415.18,264.00 L415.63,263.04 L416.01,262.15 L416.36,261.24 L416.70,260.31 L417.09,259.39 L417.52,258.46 L417.99,257.52 L418.48,256.60 L418.99,255.74 L419.52,254.85 L420.09,253.96 L420.65,253.22 L421.18,252.82 L421.64,252.82 L422.07,253.14 L422.49,253.66 L422.93,254.28 L423.39,255.03 L423.88,255.95 L424.36,256.94 L424.82,257.93 L425.27,258.96 L425.71,260.05 L426.14,261.07 L426.58,261.87 L427.01,262.38 L427.44,262.70 L427.88,262.89 L428.33,263.04 L428.79,263.20 L429.27,263.34 L429.75,263.32 L430.23,263.04 L430.70,262.35 L431.18,261.35 L431.66,260.28 L432.12,259.39 L432.57,258.70 L433.01,258.11 L433.44,257.61 L433.88,257.20 L434.31,256.84 L434.74,256.56 L435.18,256.41 L435.63,256.47 L436.09,256.78 L436.57,257.29 L437.05,257.94 L437.53,258.66 L438.00,259.48 L438.47,260.44 L438.94,261.41 L439.42,262.31 L439.93,263.12 L440.45,263.89 L440.96,264.60 L441.47,265.23 L441.95,265.79 L442.43,266.30 L442.89,266.71 L443.36,266.98 L443.84,267.09 L444.32,267.06 L444.80,266.92 L445.26,266.69 L445.70,266.29 L446.12,265.74 L446.55,265.19 L447.01,264.79 L447.53,264.57 L448.08,264.46 L448.65,264.44 L449.20,264.50 L449.75,264.66 L450.30,264.92 L450.85,265.22 L451.39,265.52 L451.94,265.85 L452.49,266.23 L453.04,266.54 L453.58,266.69 L454.13,266.59 L454.68,266.32 L455.23,265.98 L455.77,265.66 L456.32,265.37 L456.87,265.06 L457.42,264.76 L457.96,264.50 L458.54,264.18 L459.13,263.83 L459.69,263.63 L460.15,263.77 L460.50,264.29 L460.76,265.09 L460.97,266.14 L461.18,267.42 L461.37,268.98 L461.53,270.84 L461.70,272.80 L461.91,274.72 L462.17,276.64 L462.46,278.64 L462.77,280.50 L463.07,282.01 L463.37,282.98 L463.67,283.55 L463.96,284.08 L464.24,284.93 L464.51,286.18 L464.76,287.63 L465.01,289.27 L465.26,291.06 L465.52,293.06 L465.78,295.27 L466.04,297.57 L466.28,299.82 L466.51,302.12 L466.72,304.49 L466.93,306.72 L467.16,308.58 L467.41,310.01 L467.68,311.13 L467.94,312.00 L468.18,312.66 L468.37,313.13 L468.52,313.37 L468.69,313.40 L468.91,313.25 L469.21,312.83 L469.55,312.16 L469.94,311.42 L470.37,310.77 L470.89,310.25 L471.47,309.79 L472.05,309.34 L472.56,308.87 L472.98,308.42 L473.34,307.98 L473.67,307.48 L474.02,306.82 L474.40,305.87 L474.78,304.70 L475.15,303.57 L475.48,302.74 L475.76,302.22 L475.99,301.89 L476.23,301.80 L476.50,302.01 L476.83,302.59 L477.18,303.51 L477.56,304.59 L477.96,305.66 L478.41,306.76 L478.89,307.95 L479.38,309.10 L479.86,310.04 L480.34,310.70 L480.83,311.19 L481.31,311.58 L481.75,311.97 L482.14,312.49 L482.48,313.04 L482.83,313.43 L483.21,313.43 L483.65,312.92 L484.11,312.03 L484.60,310.96 L485.11,309.93 L485.64,308.90 L486.19,307.80 L486.74,306.74 L487.30,305.84 L487.86,305.12 L488.44,304.52 L488.99,304.03 L489.49,303.65 L489.91,303.35 L490.26,303.13 L490.60,303.06 L490.95,303.21 L491.32,303.58 L491.71,304.13 L492.07,304.88 L492.41,305.84 L492.69,307.01 L492.94,308.38 L493.18,309.94 L493.43,311.68 L493.71,313.66 L494.01,315.88 L494.30,318.18 L494.60,320.44 L494.88,322.66 L495.16,324.91 L495.45,327.11 L495.77,329.20 L496.10,331.11 L496.46,332.89 L496.83,334.65 L497.23,336.50 L497.64,338.49 L498.08,340.56 L498.53,342.60 L498.98,344.53 L499.42,346.35 L499.87,348.11 L500.31,349.72 L500.73,351.09 L501.12,352.32 L501.50,353.40 L501.85,354.14 L502.19,354.31 L502.50,353.73 L502.79,352.55 L503.07,351.09 L503.36,349.64 L503.64,348.10 L503.91,346.38 L504.19,344.75 L504.53,343.50 L504.93,342.82 L505.38,342.52 L505.85,342.31 L506.28,341.90 L506.67,341.27 L507.04,340.56 L507.40,339.71 L507.74,338.69 L508.04,337.33 L508.30,335.72 L508.58,334.13 L508.91,332.85 L509.29,331.89 L509.72,331.13 L510.17,330.61 L510.66,330.36 L511.17,330.56 L511.72,331.13 L512.29,331.75 L512.85,332.12 L513.41,332.02 L513.99,331.68 L514.54,331.37 L515.04,331.39 L515.45,331.87 L515.79,332.65 L516.13,333.52 L516.50,334.31 L516.93,335.01 L517.39,335.70 L517.84,336.32 L518.25,336.79 L518.57,337.11 L518.83,337.32 L519.10,337.37 L519.42,337.23 L519.81,336.81 L520.25,336.16 L520.71,335.42 L521.17,334.74 L521.64,334.19 L522.14,333.67 L522.62,333.10 L523.07,332.41 L523.45,331.58 L523.80,330.66 L524.14,329.62 L524.53,328.47 L524.97,327.06 L525.46,325.46 L525.95,323.90 L526.42,322.63 L526.87,321.64 L527.31,320.84 L527.74,320.31 L528.18,320.15 L528.61,320.49 L529.04,321.25 L529.48,322.19 L529.93,323.07 L530.39,323.86 L530.87,324.69 L531.35,325.51 L531.82,326.28 L532.30,327.01 L532.78,327.73 L533.26,328.37 L533.72,328.91 L534.17,329.40 L534.61,329.85 L535.04,330.09 L535.47,329.93 L535.92,329.26 L536.37,328.21 L536.81,326.92 L537.23,325.55 L537.61,324.04 L537.97,322.35 L538.33,320.62 L538.69,318.98 L539.04,317.45 L539.39,315.97 L539.75,314.53 L540.15,313.14 L540.60,311.73 L541.09,310.34 L541.59,309.06 L542.04,308.03 L542.44,307.21 L542.80,306.55 L543.15,306.16 L543.50,306.13 L543.86,306.54 L544.21,307.33 L544.57,308.35 L544.96,309.49 L545.41,310.79 L545.89,312.30 L546.39,313.86 L546.86,315.33 L547.31,316.73 L547.74,318.11 L548.17,319.38 L548.61,320.44 L549.08,321.33 L549.56,322.08 L550.04,322.56 L550.51,322.63 L550.97,322.16 L551.41,321.26 L551.85,320.13 L552.26,318.98 L552.65,317.82 L553.01,316.56 L553.36,315.23 L553.72,313.87 L554.09,312.46 L554.45,310.99 L554.82,309.51 L555.18,308.03 L555.56,306.58 L555.94,305.14 L556.31,303.68 L556.64,302.19 L556.90,300.62 L557.11,298.99 L557.33,297.38 L557.63,295.88 L558.04,294.50 L558.53,293.20 L559.04,291.96 L559.53,290.77 L559.96,289.64 L560.38,288.58 L560.81,287.52 L561.28,286.39 L561.81,285.15 L562.39,283.85 L562.96,282.54 L563.47,281.28 L563.88,280.08 L564.24,278.92 L564.58,277.77 L564.93,276.61 L565.29,275.32 L565.66,273.97 L566.02,272.73 L566.39,271.79 L566.75,271.24 L567.12,270.98 L567.48,270.86 L567.85,270.77 L568.21,270.75 L568.58,270.85 L568.94,270.91 L569.31,270.77 L569.68,270.31 L570.06,269.64 L570.43,268.95 L570.77,268.43 L571.05,268.08 L571.30,267.81 L571.53,267.71 L571.79,267.85 L572.06,268.30 L572.33,269.01 L572.62,269.86 L572.96,270.77 L573.35,271.82 L573.79,273.04 L574.25,274.18 L574.71,275.00 L575.19,275.39 L575.70,275.50 L576.19,275.47 L576.61,275.44 L576.90,275.39 L577.12,275.27 L577.33,275.16 L577.63,275.15 L578.05,275.26 L578.55,275.46 L579.06,275.68 L579.53,275.88 L579.92,276.10 L580.28,276.37 L580.63,276.53 L580.99,276.46 L581.36,276.01 L581.73,275.30 L582.10,274.55 L582.45,273.98 L582.74,273.64 L583.01,273.41 L583.29,273.29 L583.61,273.25 L584.02,273.35 L584.47,273.59 L584.93,273.83 L585.36,273.98 L585.74,273.94 L586.09,273.80 L586.44,273.67 L586.82,273.69 L587.27,273.98 L587.76,274.46 L588.25,274.88 L588.72,275.00 L589.18,274.77 L589.64,274.32 L590.08,273.67 L590.47,272.81 L590.81,271.70 L591.10,270.34 L591.37,268.87 L591.64,267.41 L591.88,266.12 L592.10,264.88 L592.34,263.45 L592.66,261.57 L593.11,258.99 L593.63,255.92 L594.18,252.75 L594.71,249.90 L595.20,247.39 L595.69,245.04 L596.17,242.93 L596.61,241.14 L597.00,239.70 L597.36,238.57 L597.71,237.70 L598.07,237.05 L598.43,236.60 L598.80,236.38 L599.16,236.41 L599.53,236.76 L599.89,237.42 L600.26,238.38 L600.62,239.63 L600.99,241.14 L601.34,243.05 L601.70,245.34 L602.06,247.71 L602.45,249.90 L602.86,251.86 L603.30,253.73 L603.75,255.51 L604.20,257.20 L604.63,258.80 L605.06,260.32 L605.50,261.73 L605.95,263.04 L606.42,264.34 L606.92,265.61 L607.40,266.62 L607.85,267.12 L608.24,266.98 L608.60,266.34 L608.95,265.43 L609.31,264.50 L609.66,263.45 L610.01,262.21 L610.37,261.02 L610.77,260.12 L611.21,259.58 L611.68,259.29 L612.17,259.15 L612.66,259.09 L613.17,259.13 L613.69,259.29 L614.20,259.53 L614.71,259.82 L615.20,260.10 L615.69,260.38 L616.17,260.83 L616.61,261.58 L617.00,262.78 L617.36,264.33 L617.71,265.96 L618.07,267.42 L618.42,268.65 L618.77,269.81 L619.13,270.86 L619.53,271.80 L619.97,272.61 L620.46,273.32 L620.95,273.92 L621.42,274.42 L621.88,274.79 L622.33,275.03 L622.76,275.23 L623.18,275.45 L623.55,275.76 L623.91,276.11 L624.26,276.39 L624.64,276.47 L625.06,276.27 L625.51,275.86 L625.96,275.40 L626.39,275.01 L626.76,274.65 L627.11,274.29 L627.46,274.03 L627.85,273.99 L628.29,274.26 L628.77,274.78 L629.26,275.37 L629.74,275.88 L630.22,276.27 L630.70,276.60 L631.18,276.95 L631.64,277.34 L632.10,277.74 L632.56,278.13 L633.00,278.64 L633.39,279.39 L633.74,280.47 L634.03,281.80 L634.32,283.23 L634.64,284.60 L634.97,285.95 L635.31,287.34 L635.67,288.64 L636.09,289.71 L636.60,290.44 L637.16,290.94 L637.74,291.37 L638.28,291.90 L638.78,292.59 L639.26,293.36 L639.73,294.12 L640.18,294.82 L640.64,295.55 L641.09,296.32 L641.52,296.89 L641.93,297.01 L642.31,296.51 L642.66,295.55 L643.02,294.41 L643.39,293.36 L643.81,292.43 L644.24,291.49 L644.69,290.57 L645.15,289.71 L645.61,288.90 L646.09,288.13 L646.57,287.42 L647.04,286.79 L647.53,286.15 L648.02,285.53 L648.50,285.10 L648.94,285.04 L649.34,285.45 L649.70,286.21 L650.05,287.20 L650.40,288.25 L650.77,289.38 L651.13,290.64 L651.50,291.98 L651.86,293.36 L652.23,294.73 L652.59,296.14 L652.96,297.62 L653.32,299.20 L653.69,300.89 L654.05,302.66 L654.42,304.53 L654.78,306.50 L655.15,308.68 L655.52,311.05 L655.89,313.33 L656.24,315.26 L656.56,316.68 L656.86,317.78 L657.16,318.74 L657.48,319.74 L657.82,320.86 L658.18,321.98 L658.54,323.05 L658.91,324.01 L659.27,324.87 L659.65,325.65 L660.01,326.32 L660.33,326.86 L660.59,327.29 L660.80,327.60 L661.02,327.78 L661.28,327.81 L661.60,327.61 L661.96,327.21 L662.33,326.75 L662.70,326.39 L663.05,326.14 L663.38,325.94 L663.73,325.78 L664.12,325.63 L664.57,325.47 L665.04,325.32 L665.54,325.23 L666.02,325.25 L666.51,325.39 L667.01,325.62 L667.49,325.95 L667.92,326.39 L668.28,327.01 L668.58,327.77 L668.87,328.56 L669.15,329.23 L669.44,329.77 L669.73,330.24 L670.01,330.63 L670.29,330.94 L670.56,331.15 L670.83,331.28 L671.11,331.33 L671.43,331.32 L671.82,331.25 L672.27,331.10 L672.72,330.90 L673.14,330.66 L673.52,330.34 L673.89,329.96 L674.24,329.57 L674.56,329.23 L674.87,328.94 L675.17,328.67 L675.43,328.44 L675.61,328.28" fill="none" stroke="#ED7D31" stroke-width="1.3" stroke-dasharray="3.3 1.2" stroke-linejoin="round"/>
<path d="M392.50,218.50 H675.50" stroke="#363636" stroke-width="1.1" fill="none"/>
<path d="M675.50,217.90 V379.00" stroke="#363636" stroke-width="1.1" fill="none"/>
<path d="M396.50,218.50 V379.00" stroke="#363636" stroke-width="1.15" fill="none"/>
<path d="M392.50,375.50 H675.50" stroke="#363636" stroke-width="1.15" fill="none"/>
<text transform="translate(386.70,222.73) scale(0.930,1)" font-size="13.1" text-anchor="end">10</text>
<path d="M392.50,234.20 H396.50" stroke="#363636" stroke-width="1.1" fill="none"/>
<text transform="translate(386.70,238.43) scale(0.930,1)" font-size="13.1" text-anchor="end">8</text>
<path d="M392.50,249.90 H396.50" stroke="#363636" stroke-width="1.1" fill="none"/>
<text transform="translate(386.70,254.13) scale(0.930,1)" font-size="13.1" text-anchor="end">6</text>
<path d="M392.50,265.60 H396.50" stroke="#363636" stroke-width="1.1" fill="none"/>
<text transform="translate(386.70,269.83) scale(0.930,1)" font-size="13.1" text-anchor="end">4</text>
<path d="M392.50,281.30 H396.50" stroke="#363636" stroke-width="1.1" fill="none"/>
<text transform="translate(386.70,285.53) scale(0.930,1)" font-size="13.1" text-anchor="end">2</text>
<path d="M392.50,297.00 H396.50" stroke="#363636" stroke-width="1.1" fill="none"/>
<text transform="translate(386.70,301.23) scale(0.930,1)" font-size="13.1" text-anchor="end">0</text>
<path d="M392.50,312.70 H396.50" stroke="#363636" stroke-width="1.1" fill="none"/>
<text transform="translate(386.70,316.93) scale(0.930,1)" font-size="13.1" text-anchor="end">-2</text>
<path d="M392.50,328.40 H396.50" stroke="#363636" stroke-width="1.1" fill="none"/>
<text transform="translate(386.70,332.63) scale(0.930,1)" font-size="13.1" text-anchor="end">-4</text>
<path d="M392.50,344.10 H396.50" stroke="#363636" stroke-width="1.1" fill="none"/>
<text transform="translate(386.70,348.33) scale(0.930,1)" font-size="13.1" text-anchor="end">-6</text>
<path d="M392.50,359.80 H396.50" stroke="#363636" stroke-width="1.1" fill="none"/>
<text transform="translate(386.70,364.03) scale(0.930,1)" font-size="13.1" text-anchor="end">-8</text>
<text transform="translate(386.70,379.73) scale(0.930,1)" font-size="13.1" text-anchor="end">-10</text>
<text transform="translate(396.50,393.80) scale(0.930,1)" font-size="13.1" text-anchor="middle">0</text>
<path d="M452.30,375.50 V379.10" stroke="#363636" stroke-width="1.1" fill="none"/>
<text transform="translate(452.30,393.80) scale(0.930,1)" font-size="13.1" text-anchor="middle">20</text>
<path d="M508.10,375.50 V379.10" stroke="#363636" stroke-width="1.1" fill="none"/>
<text transform="translate(508.10,393.80) scale(0.930,1)" font-size="13.1" text-anchor="middle">40</text>
<path d="M563.90,375.50 V379.10" stroke="#363636" stroke-width="1.1" fill="none"/>
<text transform="translate(563.90,393.80) scale(0.930,1)" font-size="13.1" text-anchor="middle">60</text>
<path d="M619.70,375.50 V379.10" stroke="#363636" stroke-width="1.1" fill="none"/>
<text transform="translate(619.70,393.80) scale(0.930,1)" font-size="13.1" text-anchor="middle">80</text>
<text transform="translate(675.50,393.80) scale(0.930,1)" font-size="13.1" text-anchor="middle">100</text>
<text transform="translate(535.50,409.50) scale(0.945,1)" font-size="12.9" text-anchor="middle">Time (s)</text>
<text transform="translate(361.50,295.70) rotate(-90) scale(0.945,1)" font-size="12.9" text-anchor="middle">Pressure head change (m)</text>
<text x="665.70" y="233.00" font-size="12.0" text-anchor="middle">(d)</text>
<path d="M563.00,352.00 H583.00" stroke="#4472C4" stroke-width="1.25" fill="none"/>
<path d="M563.00,365.00 H583.00" stroke="#ED7D31" stroke-width="1.25" stroke-dasharray="2.9 1.5" fill="none"/>
<text transform="translate(585.00,355.90) scale(0.940,1)" font-size="11.3">Measurement</text>
<text transform="translate(585.00,368.80) scale(0.940,1)" font-size="11.3">Calculation</text>
</g>
</svg>
</body></html>
